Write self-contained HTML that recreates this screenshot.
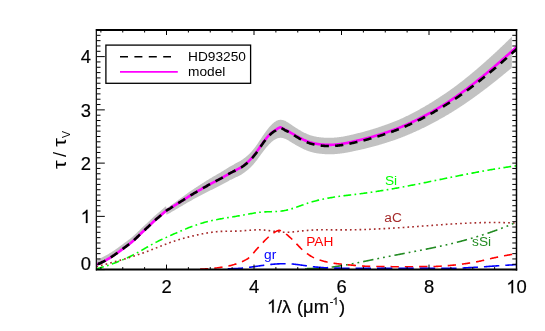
<!DOCTYPE html>
<html><head><meta charset="utf-8"><title>chart</title>
<style>
html,body{margin:0;padding:0;background:#fff;}
svg{display:block;will-change:transform;opacity:0.999;font-family:"Liberation Sans",sans-serif;}
</style></head><body>
<svg width="545" height="331" viewBox="0 0 545 331">
<rect width="545" height="331" fill="#fff"/>
<defs><clipPath id="c"><rect x="96.5" y="30.0" width="420.0" height="239.60000000000002"/></clipPath></defs>
<g clip-path="url(#c)" fill="none" stroke-linecap="butt" stroke-linejoin="round">
<path d="M90.00,262.43 L90.48,262.26 L90.96,262.09 L91.43,261.91 L91.91,261.73 L92.39,261.55 L92.87,261.37 L93.35,261.18 L93.83,260.99 L94.30,260.80 L94.78,260.60 L95.26,260.41 L95.74,260.21 L96.22,260.01 L96.70,259.81 L97.17,259.62 L97.65,259.43 L98.13,259.24 L98.61,259.05 L99.09,258.85 L99.57,258.65 L100.04,258.45 L100.52,258.24 L101.00,258.03 L101.48,257.80 L101.96,257.57 L102.44,257.33 L102.91,257.09 L103.39,256.85 L103.87,256.61 L104.35,256.36 L104.83,256.11 L105.31,255.85 L105.78,255.58 L106.26,255.31 L106.74,255.03 L107.22,254.75 L107.70,254.48 L108.18,254.19 L108.65,253.91 L109.13,253.62 L109.61,253.33 L110.09,253.04 L110.57,252.74 L111.05,252.45 L111.52,252.15 L112.00,251.84 L112.48,251.53 L112.96,251.21 L113.44,250.89 L113.92,250.57 L114.39,250.24 L114.87,249.91 L115.35,249.58 L115.83,249.25 L116.31,248.91 L116.79,248.57 L117.26,248.23 L117.74,247.89 L118.22,247.55 L118.70,247.21 L119.18,246.86 L119.66,246.52 L120.13,246.17 L120.61,245.82 L121.09,245.46 L121.57,245.11 L122.05,244.75 L122.53,244.39 L123.00,244.03 L123.48,243.66 L123.96,243.29 L124.44,242.95 L124.92,242.60 L125.39,242.25 L125.87,241.90 L126.35,241.55 L126.83,241.19 L127.31,240.83 L127.79,240.47 L128.26,240.11 L128.74,239.74 L129.22,239.38 L129.70,239.01 L130.18,238.63 L130.66,238.26 L131.13,237.88 L131.61,237.50 L132.09,237.11 L132.57,236.69 L133.05,236.26 L133.53,235.84 L134.00,235.41 L134.48,234.98 L134.96,234.55 L135.44,234.11 L135.92,233.67 L136.40,233.22 L136.87,232.76 L137.35,232.30 L137.83,231.83 L138.31,231.37 L138.79,230.90 L139.27,230.43 L139.74,229.95 L140.22,229.48 L140.70,229.00 L141.18,228.52 L141.66,228.03 L142.14,227.57 L142.61,227.14 L143.09,226.71 L143.57,226.29 L144.05,225.85 L144.53,225.42 L145.01,224.98 L145.48,224.54 L145.96,224.10 L146.44,223.66 L146.92,223.21 L147.40,222.77 L147.88,222.32 L148.35,221.87 L148.83,221.41 L149.31,220.95 L149.79,220.50 L150.27,220.04 L150.75,219.58 L151.22,219.12 L151.70,218.66 L152.18,218.20 L152.66,217.74 L153.14,217.29 L153.62,216.83 L154.09,216.38 L154.57,215.96 L155.05,215.55 L155.53,215.14 L156.01,214.73 L156.48,214.32 L156.96,213.91 L157.44,213.51 L157.92,213.10 L158.40,212.70 L158.88,212.31 L159.35,211.91 L159.83,211.52 L160.31,211.10 L160.79,210.67 L161.27,210.24 L161.75,209.81 L162.22,209.39 L162.70,208.97 L163.18,208.55 L163.66,208.14 L164.14,207.73 L164.62,207.33 L165.09,206.93 L165.57,206.53 L166.05,206.15 L166.53,208.49 L167.01,208.15 L167.49,207.81 L167.96,207.48 L168.44,207.15 L168.92,206.82 L169.40,206.49 L169.88,206.17 L170.36,205.82 L170.83,205.45 L171.31,205.09 L171.79,204.73 L172.27,204.38 L172.75,204.02 L173.23,203.67 L173.70,203.33 L174.18,202.99 L174.66,202.65 L175.14,202.31 L175.62,201.97 L176.10,201.64 L176.57,201.27 L177.05,200.91 L177.53,200.55 L178.01,200.19 L178.49,199.84 L178.97,199.49 L179.44,199.14 L179.92,198.80 L180.40,198.45 L180.88,198.11 L181.36,197.77 L181.84,197.44 L182.31,197.10 L182.79,196.76 L183.27,196.40 L183.75,196.04 L184.23,195.68 L184.71,195.32 L185.18,194.96 L185.66,194.61 L186.14,194.26 L186.62,193.90 L187.10,193.56 L187.58,193.21 L188.05,192.86 L188.53,192.52 L189.01,192.18 L189.49,191.84 L189.97,191.50 L190.44,191.17 L190.92,190.85 L191.40,190.52 L191.88,190.20 L192.36,189.88 L192.84,189.56 L193.31,189.24 L193.79,188.93 L194.27,188.61 L194.75,188.30 L195.23,187.98 L195.71,187.67 L196.18,187.35 L196.66,187.03 L197.14,186.71 L197.62,186.40 L198.10,186.08 L198.58,185.77 L199.05,185.45 L199.53,185.14 L200.01,184.83 L200.49,184.52 L200.97,184.21 L201.45,183.91 L201.92,183.60 L202.40,183.29 L202.88,182.99 L203.36,182.69 L203.84,182.38 L204.32,182.08 L204.79,181.77 L205.27,181.47 L205.75,181.17 L206.23,180.87 L206.71,180.56 L207.19,180.26 L207.66,179.96 L208.14,179.66 L208.62,179.38 L209.10,179.10 L209.58,178.81 L210.06,178.53 L210.53,178.25 L211.01,177.97 L211.49,177.69 L211.97,177.40 L212.45,177.12 L212.93,176.84 L213.40,176.55 L213.88,176.27 L214.36,175.99 L214.84,175.70 L215.32,175.43 L215.80,175.15 L216.27,174.88 L216.75,174.61 L217.23,174.34 L217.71,174.07 L218.19,173.79 L218.67,173.52 L219.14,173.24 L219.62,172.96 L220.10,172.68 L220.58,172.40 L221.06,172.11 L221.54,171.82 L222.01,171.53 L222.49,171.24 L222.97,170.95 L223.45,170.66 L223.93,170.37 L224.40,170.07 L224.88,169.78 L225.36,169.48 L225.84,169.18 L226.32,168.88 L226.80,168.58 L227.27,168.28 L227.75,167.97 L228.23,167.66 L228.71,167.36 L229.19,167.05 L229.67,166.74 L230.14,166.44 L230.62,166.19 L231.10,165.94 L231.58,165.68 L232.06,165.43 L232.54,165.17 L233.01,164.91 L233.49,164.65 L233.97,164.38 L234.45,164.12 L234.93,163.85 L235.41,163.59 L235.88,163.33 L236.36,163.07 L236.84,162.81 L237.32,162.55 L237.80,162.28 L238.28,162.02 L238.75,161.74 L239.23,161.47 L239.71,161.19 L240.19,160.91 L240.67,160.65 L241.15,160.37 L241.62,160.07 L242.10,159.74 L242.58,159.41 L243.06,159.07 L243.54,158.73 L244.02,158.37 L244.49,158.02 L244.97,157.65 L245.45,157.27 L245.93,156.89 L246.41,156.50 L246.89,156.10 L247.36,155.69 L247.84,155.26 L248.32,154.83 L248.80,154.39 L249.28,153.93 L249.76,153.46 L250.23,152.97 L250.71,152.46 L251.19,151.94 L251.67,151.40 L252.15,150.85 L252.63,150.29 L253.10,149.71 L253.58,149.12 L254.06,148.52 L254.54,147.91 L255.02,147.28 L255.49,146.65 L255.97,146.01 L256.45,145.36 L256.93,144.66 L257.41,143.96 L257.89,143.25 L258.36,142.53 L258.84,141.81 L259.32,141.09 L259.80,140.37 L260.28,139.64 L260.76,138.92 L261.23,138.19 L261.71,137.47 L262.19,136.76 L262.67,136.04 L263.15,135.34 L263.63,134.66 L264.10,133.99 L264.58,133.32 L265.06,132.66 L265.54,131.99 L266.02,131.32 L266.50,130.67 L266.97,130.03 L267.45,129.41 L267.93,128.79 L268.41,128.19 L268.89,127.61 L269.37,127.04 L269.84,126.48 L270.32,125.95 L270.80,125.43 L271.28,124.93 L271.76,124.45 L272.24,123.99 L272.71,123.56 L273.19,123.14 L273.67,122.74 L274.15,122.37 L274.63,122.01 L275.11,121.69 L275.58,121.38 L276.06,121.10 L276.54,120.85 L277.02,120.62 L277.50,120.42 L277.98,120.25 L278.45,120.11 L278.93,119.99 L279.41,119.91 L279.89,119.85 L280.37,119.81 L280.85,119.81 L281.32,119.83 L281.80,119.88 L282.28,119.95 L282.76,120.05 L283.24,120.17 L283.72,120.32 L284.19,120.48 L284.67,120.66 L285.15,120.87 L285.63,121.12 L286.11,121.38 L286.59,121.65 L287.06,121.94 L287.54,122.23 L288.02,122.53 L288.50,122.84 L288.98,123.15 L289.45,123.47 L289.93,123.78 L290.41,124.11 L290.89,124.45 L291.37,124.78 L291.85,125.10 L292.32,125.43 L292.80,125.76 L293.28,126.08 L293.76,126.40 L294.24,126.72 L294.72,127.03 L295.19,127.35 L295.67,127.66 L296.15,127.96 L296.63,128.27 L297.11,128.57 L297.59,128.87 L298.06,129.16 L298.54,129.46 L299.02,129.75 L299.50,130.03 L299.98,130.31 L300.46,130.59 L300.93,130.86 L301.41,131.13 L301.89,131.39 L302.37,131.65 L302.85,131.90 L303.33,132.15 L303.80,132.40 L304.28,132.64 L304.76,132.88 L305.24,133.11 L305.72,133.34 L306.20,133.56 L306.67,133.78 L307.15,133.99 L307.63,134.19 L308.11,134.39 L308.59,134.59 L309.07,134.78 L309.54,134.97 L310.02,135.14 L310.50,135.29 L310.98,135.44 L311.46,135.58 L311.94,135.71 L312.41,135.84 L312.89,135.97 L313.37,136.09 L313.85,136.20 L314.33,136.31 L314.81,136.42 L315.28,136.52 L315.76,136.62 L316.24,136.71 L316.72,136.79 L317.20,136.88 L317.68,136.95 L318.15,137.03 L318.63,137.10 L319.11,137.16 L319.59,137.22 L320.07,137.28 L320.55,137.33 L321.02,137.38 L321.50,137.42 L321.98,137.46 L322.46,137.51 L322.94,137.56 L323.41,137.60 L323.89,137.64 L324.37,137.68 L324.85,137.71 L325.33,137.73 L325.81,137.76 L326.28,137.78 L326.76,137.79 L327.24,137.81 L327.72,137.82 L328.20,137.82 L328.68,137.82 L329.15,137.82 L329.63,137.82 L330.11,137.81 L330.59,137.80 L331.07,137.79 L331.55,137.77 L332.02,137.75 L332.50,137.73 L332.98,137.71 L333.46,137.68 L333.94,137.65 L334.42,137.62 L334.89,137.58 L335.37,137.54 L335.85,137.50 L336.33,137.45 L336.81,137.41 L337.29,137.35 L337.76,137.30 L338.24,137.24 L338.72,137.19 L339.20,137.12 L339.68,137.06 L340.16,136.99 L340.63,136.93 L341.11,136.85 L341.59,136.78 L342.07,136.70 L342.55,136.63 L343.03,136.54 L343.50,136.46 L343.98,136.38 L344.46,136.29 L344.94,136.20 L345.42,136.11 L345.90,136.02 L346.37,135.92 L346.85,135.82 L347.33,135.72 L347.81,135.62 L348.29,135.52 L348.77,135.42 L349.24,135.31 L349.72,135.20 L350.20,135.09 L350.68,134.98 L351.16,134.87 L351.64,134.76 L352.11,134.64 L352.59,134.52 L353.07,134.40 L353.55,134.29 L354.03,134.16 L354.51,134.04 L354.98,133.92 L355.46,133.81 L355.94,133.70 L356.42,133.58 L356.90,133.47 L357.37,133.35 L357.85,133.24 L358.33,133.12 L358.81,133.00 L359.29,132.89 L359.77,132.77 L360.24,132.64 L360.72,132.52 L361.20,132.40 L361.68,132.27 L362.16,132.14 L362.64,132.02 L363.11,131.89 L363.59,131.76 L364.07,131.63 L364.55,131.50 L365.03,131.37 L365.51,131.23 L365.98,131.10 L366.46,130.97 L366.94,130.83 L367.42,130.69 L367.90,130.56 L368.38,130.42 L368.85,130.28 L369.33,130.14 L369.81,130.00 L370.29,129.86 L370.77,129.72 L371.25,129.57 L371.72,129.43 L372.20,129.29 L372.68,129.14 L373.16,128.99 L373.64,128.85 L374.12,128.70 L374.59,128.55 L375.07,128.40 L375.55,128.25 L376.03,128.09 L376.51,127.94 L376.99,127.79 L377.46,127.63 L377.94,127.48 L378.42,127.32 L378.90,127.16 L379.38,127.00 L379.86,126.84 L380.33,126.68 L380.81,126.52 L381.29,126.36 L381.77,126.20 L382.25,126.03 L382.73,125.87 L383.20,125.70 L383.68,125.54 L384.16,125.37 L384.64,125.20 L385.12,125.03 L385.60,124.86 L386.07,124.69 L386.55,124.52 L387.03,124.34 L387.51,124.17 L387.99,123.99 L388.46,123.82 L388.94,123.64 L389.42,123.46 L389.90,123.28 L390.38,123.10 L390.86,122.92 L391.33,122.74 L391.81,122.56 L392.29,122.37 L392.77,122.19 L393.25,122.00 L393.73,121.81 L394.20,121.62 L394.68,121.43 L395.16,121.24 L395.64,121.05 L396.12,120.86 L396.60,120.67 L397.07,120.47 L397.55,120.28 L398.03,120.08 L398.51,119.88 L398.99,119.68 L399.47,119.48 L399.94,119.28 L400.42,119.06 L400.90,118.84 L401.38,118.62 L401.86,118.40 L402.34,118.17 L402.81,117.95 L403.29,117.72 L403.77,117.50 L404.25,117.27 L404.73,117.04 L405.21,116.81 L405.68,116.58 L406.16,116.35 L406.64,116.11 L407.12,115.88 L407.60,115.64 L408.08,115.40 L408.55,115.17 L409.03,114.93 L409.51,114.69 L409.99,114.45 L410.47,114.20 L410.95,113.96 L411.42,113.72 L411.90,113.47 L412.38,113.22 L412.86,112.97 L413.34,112.73 L413.82,112.48 L414.29,112.22 L414.77,111.97 L415.25,111.72 L415.73,111.46 L416.21,111.21 L416.69,110.95 L417.16,110.69 L417.64,110.43 L418.12,110.17 L418.60,109.91 L419.08,109.65 L419.56,109.38 L420.03,109.12 L420.51,108.85 L420.99,108.58 L421.47,108.31 L421.95,108.04 L422.42,107.77 L422.90,107.50 L423.38,107.22 L423.86,106.95 L424.34,106.67 L424.82,106.40 L425.29,106.12 L425.77,105.84 L426.25,105.56 L426.73,105.28 L427.21,104.99 L427.69,104.71 L428.16,104.42 L428.64,104.13 L429.12,103.85 L429.60,103.56 L430.08,103.27 L430.56,102.97 L431.03,102.68 L431.51,102.39 L431.99,102.09 L432.47,101.79 L432.95,101.50 L433.43,101.20 L433.90,100.90 L434.38,100.59 L434.86,100.29 L435.34,99.99 L435.82,99.68 L436.30,99.37 L436.77,99.06 L437.25,98.76 L437.73,98.44 L438.21,98.13 L438.69,97.82 L439.17,97.50 L439.64,97.19 L440.12,96.87 L440.60,96.56 L441.08,96.25 L441.56,95.93 L442.04,95.62 L442.51,95.30 L442.99,94.98 L443.47,94.67 L443.95,94.35 L444.43,94.02 L444.91,93.70 L445.38,93.38 L445.86,93.05 L446.34,92.72 L446.82,92.39 L447.30,92.06 L447.78,91.73 L448.25,91.40 L448.73,91.07 L449.21,90.73 L449.69,90.39 L450.17,90.06 L450.65,89.72 L451.12,89.37 L451.60,89.03 L452.08,88.68 L452.56,88.34 L453.04,87.99 L453.52,87.64 L453.99,87.29 L454.47,86.94 L454.95,86.59 L455.43,86.23 L455.91,85.88 L456.38,85.52 L456.86,85.16 L457.34,84.80 L457.82,84.44 L458.30,84.08 L458.78,83.71 L459.25,83.35 L459.73,82.98 L460.21,82.62 L460.69,82.25 L461.17,81.88 L461.65,81.51 L462.12,81.13 L462.60,80.76 L463.08,80.38 L463.56,80.01 L464.04,79.63 L464.52,79.25 L464.99,78.87 L465.47,78.49 L465.95,78.11 L466.43,77.72 L466.91,77.34 L467.39,76.95 L467.86,76.56 L468.34,76.17 L468.82,75.78 L469.30,75.39 L469.78,75.00 L470.26,74.60 L470.73,74.21 L471.21,73.81 L471.69,73.41 L472.17,73.02 L472.65,72.62 L473.13,72.22 L473.60,71.82 L474.08,71.41 L474.56,71.01 L475.04,70.61 L475.52,70.20 L476.00,69.80 L476.47,69.39 L476.95,68.98 L477.43,68.57 L477.91,68.16 L478.39,67.75 L478.87,67.34 L479.34,66.93 L479.82,66.52 L480.30,66.10 L480.78,65.68 L481.26,65.26 L481.74,64.84 L482.21,64.42 L482.69,64.00 L483.17,63.58 L483.65,63.16 L484.13,62.73 L484.61,62.31 L485.08,61.88 L485.56,61.46 L486.04,61.03 L486.52,60.60 L487.00,60.18 L487.47,59.75 L487.95,59.32 L488.43,58.89 L488.91,58.46 L489.39,58.02 L489.87,57.59 L490.34,57.16 L490.82,56.72 L491.30,56.29 L491.78,55.86 L492.26,55.42 L492.74,54.98 L493.21,54.55 L493.69,54.11 L494.17,53.67 L494.65,53.23 L495.13,52.79 L495.61,52.34 L496.08,51.89 L496.56,51.44 L497.04,50.99 L497.52,50.54 L498.00,50.09 L498.48,49.63 L498.95,49.18 L499.43,48.73 L499.91,48.27 L500.39,47.82 L500.87,47.36 L501.35,46.91 L501.82,46.45 L502.30,46.00 L502.78,45.54 L503.26,45.08 L503.74,44.63 L504.22,44.17 L504.69,43.71 L505.17,43.25 L505.65,42.79 L506.13,42.33 L506.61,41.87 L507.09,41.41 L507.56,40.95 L508.04,40.49 L508.52,40.03 L509.00,39.57 L509.48,39.11 L509.96,38.65 L510.43,38.19 L510.91,37.73 L511.39,37.26 L511.87,36.80 L511.87,67.75 L511.39,68.15 L510.91,68.55 L510.43,68.94 L509.96,69.34 L509.48,69.73 L509.00,70.13 L508.52,70.52 L508.04,70.92 L507.56,71.31 L507.09,71.71 L506.61,72.10 L506.13,72.50 L505.65,72.89 L505.17,73.28 L504.69,73.67 L504.22,74.07 L503.74,74.46 L503.26,74.85 L502.78,75.24 L502.30,75.63 L501.82,76.02 L501.35,76.41 L500.87,76.80 L500.39,77.19 L499.91,77.58 L499.43,77.97 L498.95,78.36 L498.48,78.75 L498.00,79.14 L497.52,79.52 L497.04,79.91 L496.56,80.30 L496.08,80.68 L495.61,81.07 L495.13,81.45 L494.65,81.83 L494.17,82.21 L493.69,82.58 L493.21,82.96 L492.74,83.33 L492.26,83.70 L491.78,84.08 L491.30,84.45 L490.82,84.82 L490.34,85.19 L489.87,85.56 L489.39,85.93 L488.91,86.30 L488.43,86.67 L487.95,87.04 L487.47,87.40 L487.00,87.77 L486.52,88.14 L486.04,88.50 L485.56,88.87 L485.08,89.23 L484.61,89.60 L484.13,89.96 L483.65,90.32 L483.17,90.68 L482.69,91.05 L482.21,91.41 L481.74,91.77 L481.26,92.12 L480.78,92.48 L480.30,92.84 L479.82,93.20 L479.34,93.55 L478.87,93.90 L478.39,94.25 L477.91,94.60 L477.43,94.95 L476.95,95.30 L476.47,95.65 L476.00,96.00 L475.52,96.34 L475.04,96.69 L474.56,97.03 L474.08,97.38 L473.60,97.72 L473.13,98.06 L472.65,98.41 L472.17,98.75 L471.69,99.09 L471.21,99.43 L470.73,99.76 L470.26,100.10 L469.78,100.44 L469.30,100.77 L468.82,101.11 L468.34,101.44 L467.86,101.77 L467.39,102.10 L466.91,102.43 L466.43,102.76 L465.95,103.09 L465.47,103.42 L464.99,103.75 L464.52,104.07 L464.04,104.39 L463.56,104.71 L463.08,105.03 L462.60,105.35 L462.12,105.67 L461.65,105.99 L461.17,106.31 L460.69,106.62 L460.21,106.93 L459.73,107.25 L459.25,107.56 L458.78,107.87 L458.30,108.18 L457.82,108.49 L457.34,108.80 L456.86,109.10 L456.38,109.41 L455.91,109.71 L455.43,110.02 L454.95,110.32 L454.47,110.62 L453.99,110.92 L453.52,111.21 L453.04,111.51 L452.56,111.81 L452.08,112.10 L451.60,112.40 L451.12,112.69 L450.65,112.98 L450.17,113.27 L449.69,113.56 L449.21,113.84 L448.73,114.13 L448.25,114.41 L447.78,114.70 L447.30,114.98 L446.82,115.26 L446.34,115.54 L445.86,115.82 L445.38,116.10 L444.91,116.38 L444.43,116.65 L443.95,116.93 L443.47,117.20 L442.99,117.47 L442.51,117.74 L442.04,118.01 L441.56,118.28 L441.08,118.55 L440.60,118.82 L440.12,119.08 L439.64,119.35 L439.17,119.62 L438.69,119.89 L438.21,120.16 L437.73,120.42 L437.25,120.69 L436.77,120.95 L436.30,121.21 L435.82,121.47 L435.34,121.73 L434.86,121.99 L434.38,122.25 L433.90,122.51 L433.43,122.76 L432.95,123.02 L432.47,123.27 L431.99,123.53 L431.51,123.78 L431.03,124.03 L430.56,124.28 L430.08,124.52 L429.60,124.77 L429.12,125.02 L428.64,125.26 L428.16,125.51 L427.69,125.75 L427.21,125.99 L426.73,126.23 L426.25,126.47 L425.77,126.71 L425.29,126.95 L424.82,127.18 L424.34,127.42 L423.86,127.65 L423.38,127.89 L422.90,128.12 L422.42,128.35 L421.95,128.58 L421.47,128.81 L420.99,129.04 L420.51,129.27 L420.03,129.49 L419.56,129.72 L419.08,129.94 L418.60,130.16 L418.12,130.39 L417.64,130.61 L417.16,130.83 L416.69,131.04 L416.21,131.26 L415.73,131.48 L415.25,131.70 L414.77,131.91 L414.29,132.12 L413.82,132.34 L413.34,132.55 L412.86,132.76 L412.38,132.97 L411.90,133.18 L411.42,133.39 L410.95,133.59 L410.47,133.80 L409.99,134.00 L409.51,134.21 L409.03,134.41 L408.55,134.61 L408.08,134.81 L407.60,135.01 L407.12,135.21 L406.64,135.41 L406.16,135.61 L405.68,135.80 L405.21,136.00 L404.73,136.19 L404.25,136.39 L403.77,136.58 L403.29,136.77 L402.81,136.96 L402.34,137.15 L401.86,137.34 L401.38,137.53 L400.90,137.71 L400.42,137.90 L399.94,138.08 L399.47,138.26 L398.99,138.43 L398.51,138.61 L398.03,138.78 L397.55,138.95 L397.07,139.13 L396.60,139.30 L396.12,139.47 L395.64,139.63 L395.16,139.80 L394.68,139.97 L394.20,140.13 L393.73,140.30 L393.25,140.46 L392.77,140.63 L392.29,140.79 L391.81,140.95 L391.33,141.11 L390.86,141.27 L390.38,141.43 L389.90,141.59 L389.42,141.75 L388.94,141.90 L388.46,142.06 L387.99,142.21 L387.51,142.37 L387.03,142.52 L386.55,142.67 L386.07,142.82 L385.60,142.97 L385.12,143.12 L384.64,143.27 L384.16,143.42 L383.68,143.56 L383.20,143.71 L382.73,143.86 L382.25,144.00 L381.77,144.14 L381.29,144.29 L380.81,144.43 L380.33,144.57 L379.86,144.71 L379.38,144.85 L378.90,144.99 L378.42,145.13 L377.94,145.26 L377.46,145.40 L376.99,145.54 L376.51,145.67 L376.03,145.80 L375.55,145.94 L375.07,146.07 L374.59,146.20 L374.12,146.33 L373.64,146.46 L373.16,146.59 L372.68,146.72 L372.20,146.85 L371.72,146.97 L371.25,147.10 L370.77,147.23 L370.29,147.35 L369.81,147.47 L369.33,147.60 L368.85,147.72 L368.38,147.84 L367.90,147.96 L367.42,148.08 L366.94,148.20 L366.46,148.32 L365.98,148.44 L365.51,148.55 L365.03,148.67 L364.55,148.79 L364.07,148.90 L363.59,149.01 L363.11,149.13 L362.64,149.24 L362.16,149.35 L361.68,149.46 L361.20,149.57 L360.72,149.68 L360.24,149.79 L359.77,149.90 L359.29,150.00 L358.81,150.11 L358.33,150.21 L357.85,150.31 L357.37,150.41 L356.90,150.51 L356.42,150.61 L355.94,150.71 L355.46,150.81 L354.98,150.91 L354.51,151.02 L354.03,151.12 L353.55,151.23 L353.07,151.33 L352.59,151.44 L352.11,151.54 L351.64,151.64 L351.16,151.74 L350.68,151.84 L350.20,151.94 L349.72,152.03 L349.24,152.13 L348.77,152.22 L348.29,152.31 L347.81,152.40 L347.33,152.49 L346.85,152.58 L346.37,152.66 L345.90,152.74 L345.42,152.83 L344.94,152.91 L344.46,152.98 L343.98,153.06 L343.50,153.14 L343.03,153.21 L342.55,153.28 L342.07,153.35 L341.59,153.41 L341.11,153.48 L340.63,153.54 L340.16,153.60 L339.68,153.66 L339.20,153.72 L338.72,153.77 L338.24,153.82 L337.76,153.87 L337.29,153.92 L336.81,153.96 L336.33,154.00 L335.85,154.04 L335.37,154.08 L334.89,154.12 L334.42,154.15 L333.94,154.18 L333.46,154.20 L332.98,154.23 L332.50,154.25 L332.02,154.27 L331.55,154.28 L331.07,154.30 L330.59,154.31 L330.11,154.31 L329.63,154.32 L329.15,154.31 L328.68,154.31 L328.20,154.30 L327.72,154.29 L327.24,154.28 L326.76,154.26 L326.28,154.24 L325.81,154.21 L325.33,154.19 L324.85,154.15 L324.37,154.12 L323.89,154.08 L323.41,154.04 L322.94,154.00 L322.46,153.95 L321.98,153.90 L321.50,153.86 L321.02,153.81 L320.55,153.76 L320.07,153.71 L319.59,153.66 L319.11,153.60 L318.63,153.53 L318.15,153.47 L317.68,153.39 L317.20,153.32 L316.72,153.24 L316.24,153.16 L315.76,153.07 L315.28,152.98 L314.81,152.88 L314.33,152.78 L313.85,152.68 L313.37,152.57 L312.89,152.46 L312.41,152.34 L311.94,152.22 L311.46,152.10 L310.98,151.97 L310.50,151.84 L310.02,151.70 L309.54,151.53 L309.07,151.36 L308.59,151.19 L308.11,151.01 L307.63,150.83 L307.15,150.64 L306.67,150.45 L306.20,150.25 L305.72,150.05 L305.24,149.84 L304.76,149.63 L304.28,149.42 L303.80,149.20 L303.33,148.97 L302.85,148.75 L302.37,148.52 L301.89,148.28 L301.41,148.04 L300.93,147.80 L300.46,147.56 L299.98,147.31 L299.50,147.05 L299.02,146.80 L298.54,146.54 L298.06,146.27 L297.59,146.01 L297.11,145.74 L296.63,145.47 L296.15,145.19 L295.67,144.92 L295.19,144.64 L294.72,144.36 L294.24,144.07 L293.76,143.79 L293.28,143.50 L292.80,143.21 L292.32,142.92 L291.85,142.63 L291.37,142.33 L290.89,142.03 L290.41,141.74 L289.93,141.44 L289.45,141.15 L288.98,140.87 L288.50,140.59 L288.02,140.31 L287.54,140.04 L287.06,139.78 L286.59,139.52 L286.11,139.27 L285.63,139.04 L285.15,138.82 L284.67,138.63 L284.19,138.46 L283.72,138.31 L283.24,138.17 L282.76,138.06 L282.28,137.97 L281.80,137.89 L281.32,137.84 L280.85,137.82 L280.37,137.82 L279.89,137.85 L279.41,137.89 L278.93,137.97 L278.45,138.06 L277.98,138.19 L277.50,138.34 L277.02,138.51 L276.54,138.71 L276.06,138.93 L275.58,139.17 L275.11,139.43 L274.63,139.72 L274.15,140.03 L273.67,140.35 L273.19,140.70 L272.71,141.07 L272.24,141.45 L271.76,141.85 L271.28,142.27 L270.80,142.71 L270.32,143.16 L269.84,143.63 L269.37,144.11 L268.89,144.61 L268.41,145.13 L267.93,145.65 L267.45,146.19 L266.97,146.74 L266.50,147.30 L266.02,147.87 L265.54,148.46 L265.06,149.05 L264.58,149.65 L264.10,150.26 L263.63,150.88 L263.15,151.50 L262.67,152.14 L262.19,152.79 L261.71,153.45 L261.23,154.11 L260.76,154.77 L260.28,155.43 L259.80,156.10 L259.32,156.76 L258.84,157.42 L258.36,158.07 L257.89,158.73 L257.41,159.38 L256.93,160.03 L256.45,160.66 L255.97,161.26 L255.49,161.85 L255.02,162.43 L254.54,163.01 L254.06,163.57 L253.58,164.13 L253.10,164.67 L252.63,165.20 L252.15,165.72 L251.67,166.23 L251.19,166.73 L250.71,167.21 L250.23,167.69 L249.76,168.15 L249.28,168.58 L248.80,169.01 L248.32,169.42 L247.84,169.83 L247.36,170.22 L246.89,170.61 L246.41,170.99 L245.93,171.36 L245.45,171.72 L244.97,172.08 L244.49,172.42 L244.02,172.76 L243.54,173.10 L243.06,173.43 L242.58,173.75 L242.10,174.06 L241.62,174.38 L241.15,174.67 L240.67,174.94 L240.19,175.20 L239.71,175.45 L239.23,175.70 L238.75,175.94 L238.28,176.18 L237.80,176.41 L237.32,176.65 L236.84,176.88 L236.36,177.11 L235.88,177.34 L235.41,177.56 L234.93,177.79 L234.45,178.02 L233.97,178.26 L233.49,178.49 L233.01,178.72 L232.54,178.95 L232.06,179.18 L231.58,179.41 L231.10,179.63 L230.62,179.85 L230.14,180.07 L229.67,180.33 L229.19,180.61 L228.71,180.88 L228.23,181.15 L227.75,181.42 L227.27,181.69 L226.80,181.96 L226.32,182.23 L225.84,182.49 L225.36,182.76 L224.88,183.02 L224.40,183.28 L223.93,183.54 L223.45,183.80 L222.97,184.06 L222.49,184.32 L222.01,184.57 L221.54,184.83 L221.06,185.08 L220.58,185.33 L220.10,185.58 L219.62,185.83 L219.14,186.08 L218.67,186.33 L218.19,186.57 L217.71,186.81 L217.23,187.05 L216.75,187.30 L216.27,187.54 L215.80,187.78 L215.32,188.02 L214.84,188.25 L214.36,188.49 L213.88,188.72 L213.40,188.95 L212.93,189.18 L212.45,189.41 L211.97,189.65 L211.49,189.88 L211.01,190.11 L210.53,190.34 L210.06,190.57 L209.58,190.80 L209.10,191.03 L208.62,191.26 L208.14,191.49 L207.66,191.74 L207.19,191.99 L206.71,192.24 L206.23,192.49 L205.75,192.74 L205.27,192.99 L204.79,193.24 L204.32,193.49 L203.84,193.74 L203.36,193.99 L202.88,194.24 L202.40,194.49 L201.92,194.75 L201.45,195.00 L200.97,195.25 L200.49,195.51 L200.01,195.76 L199.53,196.02 L199.05,196.27 L198.58,196.52 L198.10,196.78 L197.62,197.04 L197.14,197.29 L196.66,197.55 L196.18,197.81 L195.71,198.07 L195.23,198.33 L194.75,198.58 L194.27,198.84 L193.79,199.10 L193.31,199.36 L192.84,199.62 L192.36,199.88 L191.88,200.14 L191.40,200.40 L190.92,200.67 L190.44,200.93 L189.97,201.20 L189.49,201.47 L189.01,201.74 L188.53,202.01 L188.05,202.29 L187.58,202.56 L187.10,202.84 L186.62,203.12 L186.14,203.40 L185.66,203.68 L185.18,203.97 L184.71,204.25 L184.23,204.54 L183.75,204.83 L183.27,205.12 L182.79,205.42 L182.31,205.69 L181.84,205.96 L181.36,206.22 L180.88,206.50 L180.40,206.77 L179.92,207.04 L179.44,207.32 L178.97,207.60 L178.49,207.89 L178.01,208.17 L177.53,208.46 L177.05,208.75 L176.57,209.04 L176.10,209.33 L175.62,209.61 L175.14,209.88 L174.66,210.15 L174.18,210.42 L173.70,210.70 L173.23,210.98 L172.75,211.26 L172.27,211.54 L171.79,211.83 L171.31,212.12 L170.83,212.42 L170.36,212.71 L169.88,213.00 L169.40,213.26 L168.92,213.52 L168.44,213.78 L167.96,214.05 L167.49,214.32 L167.01,214.59 L166.53,214.87 L166.05,212.35 L165.57,212.73 L165.09,213.13 L164.62,213.53 L164.14,213.93 L163.66,214.34 L163.18,214.75 L162.70,215.17 L162.22,215.59 L161.75,216.01 L161.27,216.44 L160.79,216.87 L160.31,217.30 L159.83,217.72 L159.35,218.11 L158.88,218.51 L158.40,218.90 L157.92,219.30 L157.44,219.71 L156.96,220.11 L156.48,220.52 L156.01,220.93 L155.53,221.34 L155.05,221.75 L154.57,222.16 L154.09,222.58 L153.62,223.03 L153.14,223.49 L152.66,223.94 L152.18,224.40 L151.70,224.86 L151.22,225.32 L150.75,225.78 L150.27,226.24 L149.79,226.70 L149.31,227.15 L148.83,227.61 L148.35,228.07 L147.88,228.52 L147.40,228.97 L146.92,229.41 L146.44,229.86 L145.96,230.30 L145.48,230.74 L145.01,231.18 L144.53,231.62 L144.05,232.05 L143.57,232.49 L143.09,232.91 L142.61,233.34 L142.14,233.77 L141.66,234.23 L141.18,234.72 L140.70,235.20 L140.22,235.68 L139.74,236.15 L139.27,236.63 L138.79,237.10 L138.31,237.57 L137.83,238.03 L137.35,238.50 L136.87,238.96 L136.40,239.42 L135.92,239.87 L135.44,240.31 L134.96,240.75 L134.48,241.18 L134.00,241.61 L133.53,242.04 L133.05,242.46 L132.57,242.89 L132.09,243.31 L131.61,243.70 L131.13,244.08 L130.66,244.46 L130.18,244.83 L129.70,245.21 L129.22,245.58 L128.74,245.94 L128.26,246.31 L127.79,246.67 L127.31,247.03 L126.83,247.39 L126.35,247.75 L125.87,248.10 L125.39,248.45 L124.92,248.80 L124.44,249.15 L123.96,249.49 L123.48,249.86 L123.00,250.23 L122.53,250.59 L122.05,250.95 L121.57,251.31 L121.09,251.66 L120.61,252.02 L120.13,252.37 L119.66,252.72 L119.18,253.06 L118.70,253.41 L118.22,253.75 L117.74,254.09 L117.26,254.43 L116.79,254.77 L116.31,255.11 L115.83,255.45 L115.35,255.78 L114.87,256.11 L114.39,256.44 L113.92,256.77 L113.44,257.09 L112.96,257.41 L112.48,257.73 L112.00,258.04 L111.52,258.35 L111.05,258.65 L110.57,258.94 L110.09,259.24 L109.61,259.53 L109.13,259.82 L108.65,260.11 L108.18,260.39 L107.70,260.68 L107.22,260.95 L106.74,261.23 L106.26,261.51 L105.78,261.78 L105.31,262.05 L104.83,262.31 L104.35,262.56 L103.87,262.81 L103.39,263.05 L102.91,263.29 L102.44,263.53 L101.96,263.77 L101.48,264.00 L101.00,264.23 L100.52,264.44 L100.04,264.65 L99.57,264.85 L99.09,265.05 L98.61,265.25 L98.13,265.44 L97.65,265.63 L97.17,265.82 L96.70,266.01 L96.22,266.21 L95.74,266.41 L95.26,266.61 L94.78,266.80 L94.30,267.00 L93.83,267.19 L93.35,267.38 L92.87,267.57 L92.39,267.75 L91.91,267.93 L91.43,268.11 L90.96,268.29 L90.48,268.46 L90.00,268.63Z" fill="#c2c2c2" stroke="none"/>
<path d="M96.30,268.78 L97.35,268.51 L98.41,268.24 L99.46,267.95 L100.51,267.66 L101.57,267.37 L102.62,267.06 L103.67,266.75 L104.73,266.43 L105.78,266.11 L106.83,265.78 L107.88,265.43 L108.94,265.09 L109.99,264.73 L111.04,264.37 L112.10,263.99 L113.15,263.61 L114.20,263.23 L115.26,262.83 L116.31,262.43 L117.36,262.02 L118.42,261.60 L119.47,261.17 L120.52,260.74 L121.58,260.30 L122.63,259.85 L123.68,259.39 L124.73,258.92 L125.79,258.45 L126.84,257.96 L127.89,257.47 L128.95,256.97 L130.00,256.46 L131.05,255.95 L132.11,255.42 L133.16,254.89 L134.21,254.35 L135.27,253.80 L136.32,253.24 L137.37,252.67 L138.43,252.10 L139.48,251.51 L140.53,250.92 L141.58,250.32 L142.64,249.72 L143.69,249.12 L144.74,248.51 L145.80,247.90 L146.85,247.30 L147.90,246.69 L148.96,246.10 L150.01,245.50 L151.06,244.92 L152.12,244.34 L153.17,243.77 L154.22,243.22 L155.28,242.67 L156.33,242.13 L157.38,241.60 L158.43,241.08 L159.49,240.56 L160.54,240.06 L161.59,239.56 L162.65,239.06 L163.70,238.57 L164.75,238.09 L165.81,237.61 L166.86,237.13 L167.91,236.65 L168.97,236.18 L170.02,235.72 L171.07,235.25 L172.13,234.78 L173.18,234.32 L174.23,233.85 L175.28,233.39 L176.34,232.93 L177.39,232.47 L178.44,232.01 L179.50,231.55 L180.55,231.09 L181.60,230.64 L182.66,230.19 L183.71,229.75 L184.76,229.31 L185.82,228.88 L186.87,228.45 L187.92,228.02 L188.98,227.61 L190.03,227.20 L191.08,226.79 L192.14,226.40 L193.19,226.01 L194.24,225.63 L195.29,225.26 L196.35,224.90 L197.40,224.55 L198.45,224.21 L199.51,223.88 L200.56,223.55 L201.61,223.24 L202.67,222.93 L203.72,222.64 L204.77,222.35 L205.83,222.07 L206.88,221.80 L207.93,221.53 L208.99,221.27 L210.04,221.02 L211.09,220.78 L212.14,220.54 L213.20,220.31 L214.25,220.09 L215.30,219.87 L216.36,219.66 L217.41,219.45 L218.46,219.25 L219.52,219.05 L220.57,218.86 L221.62,218.67 L222.68,218.48 L223.73,218.30 L224.78,218.12 L225.84,217.95 L226.89,217.78 L227.94,217.60 L228.99,217.43 L230.05,217.27 L231.10,217.10 L232.15,216.93 L233.21,216.76 L234.26,216.59 L235.31,216.43 L236.37,216.26 L237.42,216.08 L238.47,215.91 L239.53,215.73 L240.58,215.55 L241.63,215.37 L242.69,215.18 L243.74,214.99 L244.79,214.80 L245.84,214.60 L246.90,214.40 L247.95,214.20 L249.00,214.00 L250.06,213.81 L251.11,213.62 L252.16,213.43 L253.22,213.24 L254.27,213.07 L255.32,212.90 L256.38,212.74 L257.43,212.59 L258.48,212.45 L259.54,212.33 L260.59,212.21 L261.64,212.11 L262.69,212.03 L263.75,211.96 L264.80,211.90 L265.85,211.85 L266.91,211.81 L267.96,211.78 L269.01,211.75 L270.07,211.72 L271.12,211.69 L272.17,211.66 L273.23,211.63 L274.28,211.59 L275.33,211.55 L276.39,211.50 L277.44,211.44 L278.49,211.36 L279.55,211.27 L280.60,211.17 L281.65,211.04 L282.70,210.90 L283.76,210.74 L284.81,210.55 L285.86,210.34 L286.92,210.10 L287.97,209.84 L289.02,209.57 L290.08,209.27 L291.13,208.96 L292.18,208.63 L293.24,208.29 L294.29,207.94 L295.34,207.58 L296.40,207.21 L297.45,206.83 L298.50,206.46 L299.55,206.08 L300.61,205.70 L301.66,205.32 L302.71,204.94 L303.77,204.56 L304.82,204.19 L305.87,203.82 L306.93,203.46 L307.98,203.11 L309.03,202.77 L310.09,202.44 L311.14,202.12 L312.19,201.81 L313.25,201.51 L314.30,201.22 L315.35,200.94 L316.40,200.66 L317.46,200.40 L318.51,200.14 L319.56,199.89 L320.62,199.65 L321.67,199.41 L322.72,199.18 L323.78,198.96 L324.83,198.75 L325.88,198.54 L326.94,198.34 L327.99,198.14 L329.04,197.95 L330.10,197.77 L331.15,197.59 L332.20,197.42 L333.25,197.25 L334.31,197.08 L335.36,196.92 L336.41,196.76 L337.47,196.61 L338.52,196.46 L339.57,196.32 L340.63,196.17 L341.68,196.03 L342.73,195.89 L343.79,195.76 L344.84,195.62 L345.89,195.49 L346.95,195.36 L348.00,195.23 L349.05,195.11 L350.11,194.98 L351.16,194.85 L352.21,194.73 L353.26,194.60 L354.32,194.47 L355.37,194.35 L356.42,194.22 L357.48,194.09 L358.53,193.96 L359.58,193.83 L360.64,193.70 L361.69,193.57 L362.74,193.43 L363.80,193.29 L364.85,193.15 L365.90,193.01 L366.96,192.86 L368.01,192.72 L369.06,192.57 L370.11,192.42 L371.17,192.27 L372.22,192.11 L373.27,191.96 L374.33,191.80 L375.38,191.64 L376.43,191.48 L377.49,191.31 L378.54,191.15 L379.59,190.98 L380.65,190.81 L381.70,190.64 L382.75,190.47 L383.81,190.30 L384.86,190.12 L385.91,189.95 L386.96,189.77 L388.02,189.59 L389.07,189.41 L390.12,189.23 L391.18,189.04 L392.23,188.86 L393.28,188.67 L394.34,188.49 L395.39,188.30 L396.44,188.11 L397.50,187.92 L398.55,187.72 L399.60,187.53 L400.66,187.34 L401.71,187.14 L402.76,186.94 L403.81,186.75 L404.87,186.55 L405.92,186.35 L406.97,186.15 L408.03,185.94 L409.08,185.74 L410.13,185.54 L411.19,185.33 L412.24,185.13 L413.29,184.92 L414.35,184.72 L415.40,184.51 L416.45,184.30 L417.51,184.09 L418.56,183.88 L419.61,183.68 L420.66,183.46 L421.72,183.25 L422.77,183.04 L423.82,182.83 L424.88,182.62 L425.93,182.41 L426.98,182.19 L428.04,181.98 L429.09,181.77 L430.14,181.55 L431.20,181.34 L432.25,181.12 L433.30,180.91 L434.36,180.69 L435.41,180.48 L436.46,180.26 L437.52,180.05 L438.57,179.83 L439.62,179.62 L440.67,179.40 L441.73,179.19 L442.78,178.97 L443.83,178.76 L444.89,178.54 L445.94,178.33 L446.99,178.11 L448.05,177.90 L449.10,177.68 L450.15,177.47 L451.21,177.26 L452.26,177.04 L453.31,176.83 L454.37,176.62 L455.42,176.41 L456.47,176.19 L457.52,175.98 L458.58,175.77 L459.63,175.56 L460.68,175.35 L461.74,175.14 L462.79,174.93 L463.84,174.73 L464.90,174.52 L465.95,174.31 L467.00,174.11 L468.06,173.90 L469.11,173.70 L470.16,173.49 L471.22,173.29 L472.27,173.09 L473.32,172.89 L474.37,172.69 L475.43,172.49 L476.48,172.29 L477.53,172.10 L478.59,171.90 L479.64,171.71 L480.69,171.51 L481.75,171.32 L482.80,171.13 L483.85,170.94 L484.91,170.75 L485.96,170.56 L487.01,170.38 L488.07,170.19 L489.12,170.01 L490.17,169.82 L491.22,169.64 L492.28,169.46 L493.33,169.29 L494.38,169.11 L495.44,168.93 L496.49,168.76 L497.54,168.59 L498.60,168.42 L499.65,168.25 L500.70,168.08 L501.76,167.92 L502.81,167.76 L503.86,167.59 L504.92,167.43 L505.97,167.28 L507.02,167.12 L508.07,166.96 L509.13,166.81 L510.18,166.66 L511.23,166.51 L512.29,166.37 L513.34,166.22 L514.39,166.08 L515.45,165.94 L516.50,165.80" stroke="#00ff00" stroke-width="1.6" stroke-dasharray="7.8 3.35 1.7 3.4"/>
<path d="M96.30,266.72 L97.35,266.44 L98.41,266.16 L99.46,265.87 L100.51,265.59 L101.57,265.31 L102.62,265.03 L103.67,264.75 L104.73,264.47 L105.78,264.18 L106.83,263.90 L107.88,263.62 L108.94,263.34 L109.99,263.05 L111.04,262.77 L112.10,262.48 L113.15,262.19 L114.20,261.91 L115.26,261.62 L116.31,261.32 L117.36,261.03 L118.42,260.74 L119.47,260.44 L120.52,260.14 L121.58,259.84 L122.63,259.53 L123.68,259.23 L124.73,258.92 L125.79,258.61 L126.84,258.29 L127.89,257.97 L128.95,257.65 L130.00,257.33 L131.05,257.00 L132.11,256.67 L133.16,256.34 L134.21,256.00 L135.27,255.65 L136.32,255.31 L137.37,254.96 L138.43,254.60 L139.48,254.24 L140.53,253.87 L141.58,253.50 L142.64,253.13 L143.69,252.75 L144.74,252.37 L145.80,251.98 L146.85,251.58 L147.90,251.18 L148.96,250.78 L150.01,250.37 L151.06,249.96 L152.12,249.55 L153.17,249.14 L154.22,248.72 L155.28,248.30 L156.33,247.88 L157.38,247.47 L158.43,247.05 L159.49,246.63 L160.54,246.22 L161.59,245.80 L162.65,245.39 L163.70,244.98 L164.75,244.58 L165.81,244.18 L166.86,243.78 L167.91,243.39 L168.97,243.00 L170.02,242.62 L171.07,242.24 L172.13,241.87 L173.18,241.51 L174.23,241.15 L175.28,240.81 L176.34,240.47 L177.39,240.13 L178.44,239.81 L179.50,239.49 L180.55,239.17 L181.60,238.86 L182.66,238.56 L183.71,238.27 L184.76,237.98 L185.82,237.70 L186.87,237.42 L187.92,237.14 L188.98,236.88 L190.03,236.61 L191.08,236.36 L192.14,236.10 L193.19,235.85 L194.24,235.61 L195.29,235.37 L196.35,235.13 L197.40,234.90 L198.45,234.67 L199.51,234.45 L200.56,234.23 L201.61,234.01 L202.67,233.80 L203.72,233.60 L204.77,233.40 L205.83,233.21 L206.88,233.03 L207.93,232.85 L208.99,232.68 L210.04,232.52 L211.09,232.37 L212.14,232.22 L213.20,232.09 L214.25,231.96 L215.30,231.84 L216.36,231.74 L217.41,231.64 L218.46,231.55 L219.52,231.48 L220.57,231.41 L221.62,231.36 L222.68,231.32 L223.73,231.28 L224.78,231.25 L225.84,231.23 L226.89,231.22 L227.94,231.20 L228.99,231.19 L230.05,231.18 L231.10,231.18 L232.15,231.17 L233.21,231.16 L234.26,231.14 L235.31,231.13 L236.37,231.11 L237.42,231.08 L238.47,231.04 L239.53,231.00 L240.58,230.95 L241.63,230.88 L242.69,230.81 L243.74,230.74 L244.79,230.65 L245.84,230.57 L246.90,230.48 L247.95,230.40 L249.00,230.31 L250.06,230.22 L251.11,230.14 L252.16,230.07 L253.22,230.00 L254.27,229.94 L255.32,229.89 L256.38,229.85 L257.43,229.83 L258.48,229.82 L259.54,229.82 L260.59,229.84 L261.64,229.88 L262.69,229.94 L263.75,230.02 L264.80,230.11 L265.85,230.22 L266.91,230.34 L267.96,230.47 L269.01,230.61 L270.07,230.76 L271.12,230.90 L272.17,231.05 L273.23,231.19 L274.28,231.33 L275.33,231.46 L276.39,231.59 L277.44,231.71 L278.49,231.82 L279.55,231.92 L280.60,232.01 L281.65,232.08 L282.70,232.14 L283.76,232.19 L284.81,232.22 L285.86,232.24 L286.92,232.24 L287.97,232.22 L289.02,232.18 L290.08,232.12 L291.13,232.04 L292.18,231.96 L293.24,231.86 L294.29,231.76 L295.34,231.65 L296.40,231.54 L297.45,231.42 L298.50,231.31 L299.55,231.19 L300.61,231.07 L301.66,230.95 L302.71,230.84 L303.77,230.73 L304.82,230.63 L305.87,230.53 L306.93,230.44 L307.98,230.35 L309.03,230.28 L310.09,230.21 L311.14,230.15 L312.19,230.09 L313.25,230.04 L314.30,230.00 L315.35,229.96 L316.40,229.92 L317.46,229.89 L318.51,229.87 L319.56,229.85 L320.62,229.83 L321.67,229.82 L322.72,229.81 L323.78,229.81 L324.83,229.80 L325.88,229.80 L326.94,229.80 L327.99,229.81 L329.04,229.81 L330.10,229.82 L331.15,229.83 L332.20,229.83 L333.25,229.84 L334.31,229.85 L335.36,229.86 L336.41,229.86 L337.47,229.87 L338.52,229.88 L339.57,229.88 L340.63,229.88 L341.68,229.88 L342.73,229.88 L343.79,229.88 L344.84,229.88 L345.89,229.87 L346.95,229.86 L348.00,229.85 L349.05,229.84 L350.11,229.83 L351.16,229.81 L352.21,229.79 L353.26,229.78 L354.32,229.76 L355.37,229.73 L356.42,229.71 L357.48,229.69 L358.53,229.66 L359.58,229.63 L360.64,229.61 L361.69,229.58 L362.74,229.54 L363.80,229.51 L364.85,229.48 L365.90,229.44 L366.96,229.40 L368.01,229.37 L369.06,229.33 L370.11,229.28 L371.17,229.24 L372.22,229.20 L373.27,229.15 L374.33,229.11 L375.38,229.06 L376.43,229.01 L377.49,228.96 L378.54,228.91 L379.59,228.86 L380.65,228.81 L381.70,228.76 L382.75,228.70 L383.81,228.65 L384.86,228.59 L385.91,228.53 L386.96,228.47 L388.02,228.41 L389.07,228.35 L390.12,228.29 L391.18,228.23 L392.23,228.17 L393.28,228.10 L394.34,228.04 L395.39,227.97 L396.44,227.91 L397.50,227.84 L398.55,227.77 L399.60,227.71 L400.66,227.64 L401.71,227.57 L402.76,227.50 L403.81,227.43 L404.87,227.35 L405.92,227.28 L406.97,227.21 L408.03,227.14 L409.08,227.06 L410.13,226.99 L411.19,226.92 L412.24,226.84 L413.29,226.76 L414.35,226.69 L415.40,226.61 L416.45,226.54 L417.51,226.46 L418.56,226.38 L419.61,226.30 L420.66,226.23 L421.72,226.15 L422.77,226.07 L423.82,225.99 L424.88,225.91 L425.93,225.84 L426.98,225.76 L428.04,225.68 L429.09,225.60 L430.14,225.52 L431.20,225.45 L432.25,225.37 L433.30,225.29 L434.36,225.21 L435.41,225.14 L436.46,225.06 L437.52,224.98 L438.57,224.91 L439.62,224.83 L440.67,224.76 L441.73,224.69 L442.78,224.61 L443.83,224.54 L444.89,224.47 L445.94,224.39 L446.99,224.32 L448.05,224.25 L449.10,224.18 L450.15,224.12 L451.21,224.05 L452.26,223.98 L453.31,223.92 L454.37,223.85 L455.42,223.79 L456.47,223.73 L457.52,223.66 L458.58,223.60 L459.63,223.55 L460.68,223.49 L461.74,223.43 L462.79,223.38 L463.84,223.32 L464.90,223.27 L465.95,223.22 L467.00,223.17 L468.06,223.12 L469.11,223.07 L470.16,223.03 L471.22,222.99 L472.27,222.94 L473.32,222.90 L474.37,222.87 L475.43,222.83 L476.48,222.79 L477.53,222.76 L478.59,222.73 L479.64,222.70 L480.69,222.67 L481.75,222.65 L482.80,222.63 L483.85,222.61 L484.91,222.59 L485.96,222.57 L487.01,222.55 L488.07,222.54 L489.12,222.53 L490.17,222.52 L491.22,222.52 L492.28,222.52 L493.33,222.52 L494.38,222.52 L495.44,222.52 L496.49,222.53 L497.54,222.54 L498.60,222.55 L499.65,222.56 L500.70,222.58 L501.76,222.60 L502.81,222.62 L503.86,222.65 L504.92,222.68 L505.97,222.71 L507.02,222.74 L508.07,222.78 L509.13,222.82 L510.18,222.86 L511.23,222.91 L512.29,222.96 L513.34,223.01 L514.39,223.07 L515.45,223.12 L516.50,223.19" stroke="#a52a2a" stroke-width="1.6" stroke-dasharray="1.7 3.1"/>
<path d="M305.00,268.97 L305.53,268.97 L306.06,268.97 L306.59,268.97 L307.12,268.96 L307.65,268.96 L308.18,268.95 L308.71,268.94 L309.24,268.93 L309.77,268.91 L310.30,268.90 L310.83,268.88 L311.36,268.86 L311.89,268.84 L312.42,268.82 L312.95,268.80 L313.48,268.77 L314.01,268.75 L314.54,268.72 L315.07,268.69 L315.60,268.66 L316.13,268.63 L316.66,268.60 L317.19,268.56 L317.72,268.53 L318.25,268.49 L318.78,268.45 L319.31,268.41 L319.84,268.37 L320.37,268.32 L320.90,268.28 L321.43,268.23 L321.96,268.19 L322.49,268.14 L323.02,268.09 L323.55,268.04 L324.08,267.99 L324.61,267.93 L325.14,267.88 L325.67,267.82 L326.20,267.77 L326.73,267.71 L327.26,267.65 L327.79,267.59 L328.32,267.53 L328.85,267.47 L329.38,267.40 L329.91,267.34 L330.44,267.27 L330.97,267.20 L331.50,267.14 L332.03,267.07 L332.56,267.00 L333.09,266.93 L333.62,266.85 L334.15,266.78 L334.68,266.71 L335.21,266.63 L335.74,266.56 L336.27,266.48 L336.80,266.40 L337.33,266.32 L337.86,266.24 L338.39,266.16 L338.92,266.08 L339.45,266.00 L339.98,265.91 L340.52,265.83 L341.05,265.75 L341.58,265.66 L342.11,265.57 L342.64,265.49 L343.17,265.40 L343.70,265.31 L344.23,265.22 L344.76,265.13 L345.29,265.04 L345.82,264.95 L346.35,264.85 L346.88,264.76 L347.41,264.67 L347.94,264.57 L348.47,264.48 L349.00,264.38 L349.53,264.29 L350.06,264.19 L350.59,264.09 L351.12,263.99 L351.65,263.90 L352.18,263.80 L352.71,263.70 L353.24,263.60 L353.77,263.50 L354.30,263.40 L354.83,263.29 L355.36,263.19 L355.89,263.09 L356.42,262.99 L356.95,262.88 L357.48,262.78 L358.01,262.68 L358.54,262.57 L359.07,262.47 L359.60,262.36 L360.13,262.26 L360.66,262.15 L361.19,262.04 L361.72,261.94 L362.25,261.83 L362.78,261.72 L363.31,261.62 L363.84,261.51 L364.37,261.40 L364.90,261.29 L365.43,261.18 L365.96,261.08 L366.49,260.97 L367.02,260.86 L367.55,260.75 L368.08,260.64 L368.61,260.53 L369.14,260.42 L369.67,260.31 L370.20,260.20 L370.73,260.09 L371.26,259.98 L371.79,259.87 L372.32,259.76 L372.85,259.66 L373.38,259.55 L373.91,259.44 L374.44,259.33 L374.97,259.22 L375.50,259.11 L376.03,259.00 L376.56,258.89 L377.09,258.78 L377.62,258.67 L378.15,258.56 L378.68,258.45 L379.21,258.34 L379.74,258.23 L380.27,258.12 L380.80,258.02 L381.33,257.91 L381.86,257.80 L382.39,257.69 L382.92,257.59 L383.45,257.48 L383.98,257.37 L384.51,257.26 L385.04,257.16 L385.57,257.05 L386.10,256.95 L386.63,256.84 L387.16,256.73 L387.69,256.63 L388.22,256.52 L388.75,256.42 L389.28,256.31 L389.81,256.21 L390.34,256.11 L390.87,256.00 L391.40,255.90 L391.93,255.79 L392.46,255.69 L392.99,255.59 L393.52,255.49 L394.05,255.38 L394.58,255.28 L395.11,255.18 L395.64,255.07 L396.17,254.97 L396.70,254.87 L397.23,254.77 L397.76,254.67 L398.29,254.56 L398.82,254.46 L399.35,254.36 L399.88,254.26 L400.41,254.16 L400.94,254.05 L401.47,253.95 L402.00,253.85 L402.53,253.75 L403.06,253.65 L403.59,253.55 L404.12,253.45 L404.65,253.34 L405.18,253.24 L405.71,253.14 L406.24,253.04 L406.77,252.94 L407.30,252.84 L407.83,252.74 L408.36,252.63 L408.89,252.53 L409.42,252.43 L409.95,252.33 L410.48,252.23 L411.02,252.13 L411.55,252.02 L412.08,251.92 L412.61,251.82 L413.14,251.72 L413.67,251.62 L414.20,251.51 L414.73,251.41 L415.26,251.31 L415.79,251.21 L416.32,251.10 L416.85,251.00 L417.38,250.90 L417.91,250.79 L418.44,250.69 L418.97,250.59 L419.50,250.48 L420.03,250.38 L420.56,250.27 L421.09,250.17 L421.62,250.07 L422.15,249.96 L422.68,249.86 L423.21,249.75 L423.74,249.65 L424.27,249.54 L424.80,249.43 L425.33,249.33 L425.86,249.22 L426.39,249.11 L426.92,249.01 L427.45,248.90 L427.98,248.79 L428.51,248.68 L429.04,248.58 L429.57,248.47 L430.10,248.36 L430.63,248.25 L431.16,248.14 L431.69,248.03 L432.22,247.92 L432.75,247.81 L433.28,247.70 L433.81,247.59 L434.34,247.48 L434.87,247.36 L435.40,247.25 L435.93,247.14 L436.46,247.02 L436.99,246.91 L437.52,246.80 L438.05,246.68 L438.58,246.57 L439.11,246.45 L439.64,246.34 L440.17,246.22 L440.70,246.10 L441.23,245.99 L441.76,245.87 L442.29,245.75 L442.82,245.63 L443.35,245.51 L443.88,245.39 L444.41,245.27 L444.94,245.15 L445.47,245.03 L446.00,244.91 L446.53,244.79 L447.06,244.66 L447.59,244.54 L448.12,244.42 L448.65,244.29 L449.18,244.17 L449.71,244.04 L450.24,243.92 L450.77,243.79 L451.30,243.66 L451.83,243.54 L452.36,243.41 L452.89,243.28 L453.42,243.15 L453.95,243.02 L454.48,242.89 L455.01,242.75 L455.54,242.62 L456.07,242.49 L456.60,242.36 L457.13,242.22 L457.66,242.09 L458.19,241.95 L458.72,241.82 L459.25,241.68 L459.78,241.54 L460.31,241.40 L460.84,241.26 L461.37,241.12 L461.90,240.98 L462.43,240.84 L462.96,240.70 L463.49,240.56 L464.02,240.42 L464.55,240.27 L465.08,240.13 L465.61,239.98 L466.14,239.84 L466.67,239.69 L467.20,239.54 L467.73,239.40 L468.26,239.25 L468.79,239.10 L469.32,238.95 L469.85,238.80 L470.38,238.64 L470.91,238.49 L471.44,238.34 L471.97,238.19 L472.50,238.03 L473.03,237.87 L473.56,237.72 L474.09,237.56 L474.62,237.40 L475.15,237.25 L475.68,237.09 L476.21,236.93 L476.74,236.76 L477.27,236.60 L477.80,236.44 L478.33,236.28 L478.86,236.11 L479.39,235.95 L479.92,235.78 L480.45,235.61 L480.98,235.45 L481.52,235.28 L482.05,235.11 L482.58,234.94 L483.11,234.77 L483.64,234.60 L484.17,234.42 L484.70,234.25 L485.23,234.08 L485.76,233.90 L486.29,233.73 L486.82,233.55 L487.35,233.37 L487.88,233.19 L488.41,233.01 L488.94,232.83 L489.47,232.65 L490.00,232.47 L490.53,232.29 L491.06,232.10 L491.59,231.92 L492.12,231.73 L492.65,231.55 L493.18,231.36 L493.71,231.17 L494.24,230.98 L494.77,230.79 L495.30,230.60 L495.83,230.41 L496.36,230.21 L496.89,230.02 L497.42,229.82 L497.95,229.63 L498.48,229.43 L499.01,229.23 L499.54,229.03 L500.07,228.83 L500.60,228.63 L501.13,228.43 L501.66,228.23 L502.19,228.02 L502.72,227.82 L503.25,227.61 L503.78,227.41 L504.31,227.20 L504.84,226.99 L505.37,226.78 L505.90,226.57 L506.43,226.36 L506.96,226.14 L507.49,225.93 L508.02,225.71 L508.55,225.50 L509.08,225.28 L509.61,225.06 L510.14,224.84 L510.67,224.62 L511.20,224.40 L511.73,224.18 L512.26,223.96 L512.79,223.73 L513.32,223.51 L513.85,223.28 L514.38,223.05 L514.91,222.83 L515.44,222.60 L515.97,222.36 L516.50,222.13" stroke="#228b22" stroke-width="1.6" stroke-dasharray="10.5 4 1.8 4 1.8 4 1.8 4" stroke-dashoffset="5.1"/>
<path d="M307,268.6 L326.7,268.3" stroke="#228b22" stroke-width="1.6"/>
<path d="M200.00,269.20 L200.79,269.17 L201.59,269.14 L202.38,269.10 L203.17,269.06 L203.97,269.02 L204.76,268.97 L205.55,268.92 L206.35,268.87 L207.14,268.82 L207.93,268.76 L208.73,268.70 L209.52,268.64 L210.31,268.57 L211.11,268.51 L211.90,268.44 L212.69,268.36 L213.48,268.28 L214.28,268.20 L215.07,268.11 L215.86,268.02 L216.66,267.93 L217.45,267.83 L218.24,267.72 L219.04,267.62 L219.83,267.51 L220.62,267.39 L221.42,267.27 L222.21,267.15 L223.00,267.03 L223.80,266.90 L224.59,266.77 L225.38,266.63 L226.18,266.49 L226.97,266.34 L227.76,266.18 L228.56,266.01 L229.35,265.83 L230.14,265.64 L230.94,265.45 L231.73,265.24 L232.52,265.03 L233.32,264.81 L234.11,264.59 L234.90,264.35 L235.70,264.11 L236.49,263.86 L237.28,263.61 L238.08,263.33 L238.87,263.04 L239.66,262.72 L240.45,262.39 L241.25,262.04 L242.04,261.68 L242.83,261.30 L243.63,260.91 L244.42,260.50 L245.21,260.09 L246.01,259.66 L246.80,259.21 L247.59,258.73 L248.39,258.21 L249.18,257.64 L249.97,257.02 L250.77,256.30 L251.56,255.45 L252.35,254.50 L253.15,253.50 L253.94,252.48 L254.73,251.47 L255.53,250.51 L256.32,249.62 L257.11,248.75 L257.91,247.90 L258.70,247.05 L259.49,246.21 L260.29,245.38 L261.08,244.55 L261.87,243.71 L262.67,242.87 L263.46,242.01 L264.25,241.16 L265.05,240.32 L265.84,239.51 L266.63,238.72 L267.42,237.98 L268.22,237.26 L269.01,236.56 L269.80,235.88 L270.60,235.23 L271.39,234.59 L272.18,233.99 L272.98,233.42 L273.77,232.88 L274.56,232.35 L275.36,231.85 L276.15,231.40 L276.94,231.02 L277.74,230.67 L278.53,230.38 L279.32,230.31 L280.12,230.53 L280.91,230.87 L281.70,231.23 L282.50,231.65 L283.29,232.13 L284.08,232.64 L284.88,233.18 L285.67,233.75 L286.46,234.35 L287.26,234.99 L288.05,235.65 L288.84,236.34 L289.64,237.04 L290.43,237.75 L291.22,238.48 L292.02,239.24 L292.81,240.02 L293.60,240.83 L294.39,241.64 L295.19,242.46 L295.98,243.27 L296.77,244.08 L297.57,244.90 L298.36,245.74 L299.15,246.58 L299.95,247.41 L300.74,248.22 L301.53,248.99 L302.33,249.72 L303.12,250.42 L303.91,251.10 L304.71,251.76 L305.50,252.39 L306.29,253.00 L307.09,253.59 L307.88,254.15 L308.67,254.69 L309.47,255.21 L310.26,255.71 L311.05,256.20 L311.85,256.67 L312.64,257.11 L313.43,257.52 L314.23,257.91 L315.02,258.27 L315.81,258.62 L316.61,258.95 L317.40,259.27 L318.19,259.56 L318.98,259.84 L319.78,260.09 L320.57,260.34 L321.36,260.57 L322.16,260.80 L322.95,261.02 L323.74,261.24 L324.54,261.45 L325.33,261.65 L326.12,261.84 L326.92,262.03 L327.71,262.20 L328.50,262.37 L329.30,262.53 L330.09,262.68 L330.88,262.81 L331.68,262.94 L332.47,263.07 L333.26,263.18 L334.06,263.29 L334.85,263.40 L335.64,263.50 L336.44,263.59 L337.23,263.68 L338.02,263.77 L338.82,263.86 L339.61,263.94 L340.40,264.03 L341.20,264.11 L341.99,264.19 L342.78,264.28 L343.58,264.36 L344.37,264.44 L345.16,264.53 L345.95,264.61 L346.75,264.69 L347.54,264.76 L348.33,264.84 L349.13,264.92 L349.92,264.99 L350.71,265.06 L351.51,265.13 L352.30,265.20 L353.09,265.27 L353.89,265.34 L354.68,265.40 L355.47,265.46 L356.27,265.52 L357.06,265.59 L357.85,265.65 L358.65,265.72 L359.44,265.78 L360.23,265.85 L361.03,265.91 L361.82,265.97 L362.61,266.03 L363.41,266.09 L364.20,266.14 L364.99,266.19 L365.79,266.24 L366.58,266.28 L367.37,266.32 L368.17,266.35 L368.96,266.37 L369.75,266.40 L370.55,266.41 L371.34,266.42 L372.13,266.44 L372.92,266.45 L373.72,266.47 L374.51,266.48 L375.30,266.49 L376.10,266.51 L376.89,266.52 L377.68,266.53 L378.48,266.54 L379.27,266.55 L380.06,266.56 L380.86,266.57 L381.65,266.58 L382.44,266.59 L383.24,266.60 L384.03,266.61 L384.82,266.62 L385.62,266.63 L386.41,266.63 L387.20,266.64 L388.00,266.65 L388.79,266.66 L389.58,266.66 L390.38,266.67 L391.17,266.67 L391.96,266.68 L392.76,266.68 L393.55,266.68 L394.34,266.69 L395.14,266.69 L395.93,266.69 L396.72,266.70 L397.52,266.70 L398.31,266.70 L399.10,266.70 L399.89,266.70 L400.69,266.70 L401.48,266.70 L402.27,266.70 L403.07,266.70 L403.86,266.70 L404.65,266.70 L405.45,266.70 L406.24,266.70 L407.03,266.69 L407.83,266.69 L408.62,266.69 L409.41,266.69 L410.21,266.69 L411.00,266.69 L411.79,266.68 L412.59,266.68 L413.38,266.68 L414.17,266.68 L414.97,266.67 L415.76,266.67 L416.55,266.67 L417.35,266.67 L418.14,266.66 L418.93,266.66 L419.73,266.66 L420.52,266.65 L421.31,266.65 L422.11,266.65 L422.90,266.64 L423.69,266.64 L424.48,266.63 L425.28,266.63 L426.07,266.62 L426.86,266.62 L427.66,266.61 L428.45,266.61 L429.24,266.60 L430.04,266.60 L430.83,266.59 L431.62,266.58 L432.42,266.56 L433.21,266.54 L434.00,266.52 L434.80,266.49 L435.59,266.46 L436.38,266.42 L437.18,266.38 L437.97,266.34 L438.76,266.29 L439.56,266.24 L440.35,266.19 L441.14,266.14 L441.94,266.08 L442.73,266.03 L443.52,265.97 L444.32,265.91 L445.11,265.84 L445.90,265.78 L446.70,265.71 L447.49,265.65 L448.28,265.58 L449.08,265.51 L449.87,265.44 L450.66,265.38 L451.45,265.31 L452.25,265.24 L453.04,265.17 L453.83,265.10 L454.63,265.02 L455.42,264.94 L456.21,264.86 L457.01,264.77 L457.80,264.68 L458.59,264.58 L459.39,264.48 L460.18,264.38 L460.97,264.28 L461.77,264.17 L462.56,264.06 L463.35,263.95 L464.15,263.83 L464.94,263.71 L465.73,263.59 L466.53,263.47 L467.32,263.35 L468.11,263.22 L468.91,263.09 L469.70,262.96 L470.49,262.83 L471.29,262.70 L472.08,262.57 L472.87,262.43 L473.67,262.30 L474.46,262.16 L475.25,262.03 L476.05,261.89 L476.84,261.74 L477.63,261.59 L478.42,261.43 L479.22,261.27 L480.01,261.11 L480.80,260.94 L481.60,260.76 L482.39,260.59 L483.18,260.40 L483.98,260.22 L484.77,260.04 L485.56,259.85 L486.36,259.66 L487.15,259.47 L487.94,259.28 L488.74,259.09 L489.53,258.90 L490.32,258.71 L491.12,258.52 L491.91,258.34 L492.70,258.15 L493.50,257.97 L494.29,257.79 L495.08,257.61 L495.88,257.44 L496.67,257.27 L497.46,257.11 L498.26,256.95 L499.05,256.79 L499.84,256.63 L500.64,256.48 L501.43,256.32 L502.22,256.17 L503.02,256.02 L503.81,255.87 L504.60,255.72 L505.39,255.57 L506.19,255.42 L506.98,255.27 L507.77,255.13 L508.57,254.98 L509.36,254.84 L510.15,254.70 L510.95,254.56 L511.74,254.42 L512.53,254.28 L513.33,254.14 L514.12,254.00 L514.91,253.87 L515.71,253.73 L516.50,253.60" stroke="#ff0000" stroke-width="1.6" stroke-dasharray="8.3 6"/>
<path d="M227.70,268.80 L228.42,268.80 L229.15,268.79 L229.87,268.77 L230.60,268.76 L231.32,268.74 L232.04,268.71 L232.77,268.69 L233.49,268.66 L234.21,268.62 L234.94,268.59 L235.66,268.55 L236.39,268.51 L237.11,268.47 L237.83,268.43 L238.56,268.39 L239.28,268.34 L240.00,268.30 L240.73,268.25 L241.45,268.20 L242.18,268.13 L242.90,268.06 L243.62,267.99 L244.35,267.90 L245.07,267.82 L245.80,267.73 L246.52,267.64 L247.24,267.55 L247.97,267.46 L248.69,267.36 L249.41,267.27 L250.14,267.18 L250.86,267.09 L251.59,267.00 L252.31,266.90 L253.03,266.80 L253.76,266.69 L254.48,266.59 L255.20,266.48 L255.93,266.38 L256.65,266.27 L257.38,266.17 L258.10,266.06 L258.82,265.96 L259.55,265.86 L260.27,265.76 L261.00,265.66 L261.72,265.56 L262.44,265.46 L263.17,265.35 L263.89,265.25 L264.61,265.15 L265.34,265.05 L266.06,264.95 L266.79,264.86 L267.51,264.77 L268.23,264.68 L268.96,264.60 L269.68,264.53 L270.40,264.46 L271.13,264.40 L271.85,264.33 L272.58,264.27 L273.30,264.21 L274.02,264.15 L274.75,264.09 L275.47,264.04 L276.20,263.99 L276.92,263.94 L277.64,263.90 L278.37,263.86 L279.09,263.83 L279.81,263.81 L280.54,263.78 L281.26,263.76 L281.99,263.74 L282.71,263.73 L283.43,263.71 L284.16,263.70 L284.88,263.70 L285.60,263.70 L286.33,263.72 L287.05,263.74 L287.78,263.76 L288.50,263.80 L289.22,263.83 L289.95,263.88 L290.67,263.92 L291.40,263.96 L292.12,264.01 L292.84,264.06 L293.57,264.12 L294.29,264.18 L295.01,264.26 L295.74,264.34 L296.46,264.43 L297.19,264.52 L297.91,264.62 L298.63,264.72 L299.36,264.82 L300.08,264.92 L300.80,265.03 L301.53,265.13 L302.25,265.23 L302.98,265.33 L303.70,265.43 L304.42,265.53 L305.15,265.62 L305.87,265.71 L306.60,265.80 L307.32,265.90 L308.04,265.99 L308.77,266.09 L309.49,266.19 L310.21,266.29 L310.94,266.39 L311.66,266.48 L312.39,266.58 L313.11,266.67 L313.83,266.76 L314.56,266.84 L315.28,266.93 L316.00,267.01 L316.73,267.08 L317.45,267.15 L318.18,267.22 L318.90,267.28 L319.62,267.34 L320.35,267.40 L321.07,267.46 L321.80,267.52 L322.52,267.58 L323.24,267.64 L323.97,267.69 L324.69,267.74 L325.41,267.79 L326.14,267.84 L326.86,267.88 L327.59,267.91 L328.31,267.95 L329.03,267.97 L329.76,267.99 L330.48,268.01 L331.20,268.03 L331.93,268.04 L332.65,268.06 L333.38,268.07 L334.10,268.08 L334.82,268.10 L335.55,268.11 L336.27,268.12 L337.00,268.13 L337.72,268.14 L338.44,268.15 L339.17,268.16 L339.89,268.16 L340.61,268.17 L341.34,268.18 L342.06,268.18 L342.79,268.19 L343.51,268.19 L344.23,268.20 L344.96,268.20 L345.68,268.20 L346.40,268.21 L347.13,268.21 L347.85,268.21 L348.58,268.21 L349.30,268.21 L350.02,268.22 L350.75,268.22 L351.47,268.22 L352.20,268.22 L352.92,268.22 L353.64,268.23 L354.37,268.23 L355.09,268.23 L355.81,268.23 L356.54,268.23 L357.26,268.24 L357.99,268.24 L358.71,268.24 L359.43,268.24 L360.16,268.24 L360.88,268.24 L361.60,268.24 L362.33,268.24 L363.05,268.25 L363.78,268.25 L364.50,268.25 L365.22,268.25 L365.95,268.25 L366.67,268.25 L367.40,268.25 L368.12,268.25 L368.84,268.25 L369.57,268.26 L370.29,268.26 L371.01,268.26 L371.74,268.26 L372.46,268.26 L373.19,268.26 L373.91,268.26 L374.63,268.26 L375.36,268.26 L376.08,268.26 L376.80,268.26 L377.53,268.26 L378.25,268.27 L378.98,268.27 L379.70,268.27 L380.42,268.27 L381.15,268.27 L381.87,268.27 L382.60,268.27 L383.32,268.27 L384.04,268.27 L384.77,268.27 L385.49,268.27 L386.21,268.28 L386.94,268.28 L387.66,268.28 L388.39,268.28 L389.11,268.28 L389.83,268.28 L390.56,268.28 L391.28,268.28 L392.00,268.28 L392.73,268.29 L393.45,268.29 L394.18,268.29 L394.90,268.29 L395.62,268.29 L396.35,268.29 L397.07,268.29 L397.80,268.29 L398.52,268.30 L399.24,268.30 L399.97,268.30 L400.69,268.30 L401.41,268.30 L402.14,268.31 L402.86,268.31 L403.59,268.31 L404.31,268.31 L405.03,268.32 L405.76,268.32 L406.48,268.32 L407.20,268.32 L407.93,268.33 L408.65,268.33 L409.38,268.33 L410.10,268.34 L410.82,268.34 L411.55,268.34 L412.27,268.35 L413.00,268.35 L413.72,268.35 L414.44,268.36 L415.17,268.36 L415.89,268.36 L416.61,268.37 L417.34,268.37 L418.06,268.37 L418.79,268.37 L419.51,268.38 L420.23,268.38 L420.96,268.38 L421.68,268.39 L422.40,268.39 L423.13,268.39 L423.85,268.39 L424.58,268.39 L425.30,268.39 L426.02,268.40 L426.75,268.40 L427.47,268.40 L428.20,268.40 L428.92,268.40 L429.64,268.40 L430.37,268.40 L431.09,268.40 L431.81,268.40 L432.54,268.40 L433.26,268.40 L433.99,268.40 L434.71,268.40 L435.43,268.39 L436.16,268.39 L436.88,268.39 L437.60,268.39 L438.33,268.38 L439.05,268.38 L439.78,268.38 L440.50,268.38 L441.22,268.37 L441.95,268.37 L442.67,268.37 L443.40,268.36 L444.12,268.36 L444.84,268.35 L445.57,268.35 L446.29,268.35 L447.01,268.34 L447.74,268.34 L448.46,268.33 L449.19,268.33 L449.91,268.32 L450.63,268.32 L451.36,268.31 L452.08,268.30 L452.80,268.30 L453.53,268.29 L454.25,268.28 L454.98,268.27 L455.70,268.25 L456.42,268.23 L457.15,268.21 L457.87,268.19 L458.60,268.17 L459.32,268.14 L460.04,268.11 L460.77,268.08 L461.49,268.05 L462.21,268.02 L462.94,267.98 L463.66,267.95 L464.39,267.91 L465.11,267.87 L465.83,267.83 L466.56,267.79 L467.28,267.75 L468.00,267.71 L468.73,267.67 L469.45,267.63 L470.18,267.59 L470.90,267.55 L471.62,267.51 L472.35,267.47 L473.07,267.43 L473.80,267.39 L474.52,267.35 L475.24,267.31 L475.97,267.27 L476.69,267.23 L477.41,267.19 L478.14,267.15 L478.86,267.10 L479.59,267.06 L480.31,267.01 L481.03,266.97 L481.76,266.92 L482.48,266.87 L483.20,266.83 L483.93,266.78 L484.65,266.73 L485.38,266.68 L486.10,266.63 L486.82,266.58 L487.55,266.53 L488.27,266.48 L489.00,266.42 L489.72,266.37 L490.44,266.32 L491.17,266.27 L491.89,266.22 L492.61,266.17 L493.34,266.12 L494.06,266.07 L494.79,266.02 L495.51,265.97 L496.23,265.92 L496.96,265.87 L497.68,265.82 L498.40,265.77 L499.13,265.73 L499.85,265.68 L500.58,265.63 L501.30,265.58 L502.02,265.54 L502.75,265.49 L503.47,265.44 L504.20,265.40 L504.92,265.35 L505.64,265.30 L506.37,265.25 L507.09,265.21 L507.81,265.16 L508.54,265.11 L509.26,265.07 L509.99,265.02 L510.71,264.97 L511.43,264.93 L512.16,264.88 L512.88,264.83 L513.60,264.79 L514.33,264.74 L515.05,264.69 L515.78,264.65 L516.50,264.60" stroke="#0000ff" stroke-width="1.6" stroke-dasharray="15.4 6"/>
<path d="M90.00,267.13 L90.48,266.96 L90.96,266.79 L91.43,266.61 L91.91,266.43 L92.39,266.25 L92.87,266.07 L93.35,265.88 L93.83,265.69 L94.30,265.50 L94.78,265.30 L95.26,265.11 L95.74,264.91 L96.22,264.71 L96.70,264.51 L97.17,264.32 L97.65,264.13 L98.13,263.94 L98.61,263.75 L99.09,263.55 L99.57,263.35 L100.04,263.15 L100.52,262.94 L101.00,262.73 L101.48,262.50 L101.96,262.27 L102.44,262.03 L102.91,261.79 L103.39,261.55 L103.87,261.31 L104.35,261.06 L104.83,260.81 L105.31,260.55 L105.78,260.28 L106.26,260.01 L106.74,259.73 L107.22,259.45 L107.70,259.18 L108.18,258.89 L108.65,258.61 L109.13,258.32 L109.61,258.03 L110.09,257.74 L110.57,257.44 L111.05,257.15 L111.52,256.85 L112.00,256.54 L112.48,256.23 L112.96,255.91 L113.44,255.59 L113.92,255.27 L114.39,254.94 L114.87,254.61 L115.35,254.28 L115.83,253.95 L116.31,253.61 L116.79,253.27 L117.26,252.93 L117.74,252.59 L118.22,252.25 L118.70,251.91 L119.18,251.56 L119.66,251.22 L120.13,250.87 L120.61,250.52 L121.09,250.16 L121.57,249.81 L122.05,249.45 L122.53,249.09 L123.00,248.73 L123.48,248.36 L123.96,247.99 L124.44,247.65 L124.92,247.30 L125.39,246.95 L125.87,246.60 L126.35,246.25 L126.83,245.89 L127.31,245.53 L127.79,245.17 L128.26,244.81 L128.74,244.44 L129.22,244.08 L129.70,243.71 L130.18,243.33 L130.66,242.96 L131.13,242.58 L131.61,242.20 L132.09,241.81 L132.57,241.39 L133.05,240.96 L133.53,240.54 L134.00,240.11 L134.48,239.68 L134.96,239.25 L135.44,238.81 L135.92,238.37 L136.40,237.92 L136.87,237.46 L137.35,237.00 L137.83,236.53 L138.31,236.07 L138.79,235.60 L139.27,235.13 L139.74,234.65 L140.22,234.18 L140.70,233.70 L141.18,233.22 L141.66,232.73 L142.14,232.27 L142.61,231.84 L143.09,231.41 L143.57,230.99 L144.05,230.55 L144.53,230.12 L145.01,229.68 L145.48,229.24 L145.96,228.80 L146.44,228.36 L146.92,227.91 L147.40,227.47 L147.88,227.02 L148.35,226.57 L148.83,226.11 L149.31,225.65 L149.79,225.20 L150.27,224.74 L150.75,224.28 L151.22,223.82 L151.70,223.36 L152.18,222.90 L152.66,222.44 L153.14,221.99 L153.62,221.53 L154.09,221.08 L154.57,220.66 L155.05,220.25 L155.53,219.84 L156.01,219.43 L156.48,219.02 L156.96,218.61 L157.44,218.21 L157.92,217.80 L158.40,217.40 L158.88,217.01 L159.35,216.61 L159.83,216.22 L160.31,215.80 L160.79,215.37 L161.27,214.94 L161.75,214.51 L162.22,214.09 L162.70,213.67 L163.18,213.25 L163.66,212.84 L164.14,212.43 L164.62,212.03 L165.09,211.63 L165.57,211.23 L166.05,210.85 L166.53,210.54 L167.01,210.25 L167.49,209.95 L167.96,209.66 L168.44,209.37 L168.92,209.09 L169.40,208.80 L169.88,208.53 L170.36,208.22 L170.83,207.90 L171.31,207.58 L171.79,207.27 L172.27,206.96 L172.75,206.65 L173.23,206.34 L173.70,206.04 L174.18,205.74 L174.66,205.45 L175.14,205.15 L175.62,204.86 L176.10,204.57 L176.57,204.25 L177.05,203.94 L177.53,203.62 L178.01,203.31 L178.49,203.00 L178.97,202.70 L179.44,202.40 L179.92,202.09 L180.40,201.80 L180.88,201.50 L181.36,201.21 L181.84,200.92 L182.31,200.63 L182.79,200.33 L183.27,200.01 L183.75,199.70 L184.23,199.38 L184.71,199.07 L185.18,198.76 L185.66,198.45 L186.14,198.15 L186.62,197.84 L187.10,197.54 L187.58,197.24 L188.05,196.94 L188.53,196.64 L189.01,196.35 L189.49,196.05 L189.97,195.76 L190.44,195.47 L190.92,195.18 L191.40,194.89 L191.88,194.60 L192.36,194.32 L192.84,194.03 L193.31,193.75 L193.79,193.47 L194.27,193.19 L194.75,192.91 L195.23,192.63 L195.71,192.35 L196.18,192.06 L196.66,191.78 L197.14,191.50 L197.62,191.22 L198.10,190.94 L198.58,190.66 L199.05,190.38 L199.53,190.11 L200.01,189.83 L200.49,189.55 L200.97,189.28 L201.45,189.01 L201.92,188.73 L202.40,188.46 L202.88,188.19 L203.36,187.91 L203.84,187.64 L204.32,187.37 L204.79,187.10 L205.27,186.83 L205.75,186.56 L206.23,186.29 L206.71,186.02 L207.19,185.75 L207.66,185.48 L208.14,185.21 L208.62,184.96 L209.10,184.71 L209.58,184.46 L210.06,184.21 L210.53,183.96 L211.01,183.71 L211.49,183.46 L211.97,183.21 L212.45,182.96 L212.93,182.71 L213.40,182.46 L213.88,182.20 L214.36,181.95 L214.84,181.70 L215.32,181.45 L215.80,181.19 L216.27,180.94 L216.75,180.68 L217.23,180.43 L217.71,180.17 L218.19,179.91 L218.67,179.66 L219.14,179.40 L219.62,179.14 L220.10,178.88 L220.58,178.62 L221.06,178.35 L221.54,178.09 L222.01,177.82 L222.49,177.55 L222.97,177.28 L223.45,177.01 L223.93,176.74 L224.40,176.47 L224.88,176.20 L225.36,175.92 L225.84,175.65 L226.32,175.37 L226.80,175.09 L227.27,174.81 L227.75,174.53 L228.23,174.25 L228.71,173.96 L229.19,173.67 L229.67,173.39 L230.14,173.12 L230.62,172.89 L231.10,172.65 L231.58,172.42 L232.06,172.18 L232.54,171.95 L233.01,171.71 L233.49,171.47 L233.97,171.22 L234.45,170.98 L234.93,170.73 L235.41,170.48 L235.88,170.23 L236.36,169.97 L236.84,169.72 L237.32,169.46 L237.80,169.20 L238.28,168.94 L238.75,168.67 L239.23,168.40 L239.71,168.13 L240.19,167.85 L240.67,167.57 L241.15,167.28 L241.62,166.97 L242.10,166.63 L242.58,166.28 L243.06,165.92 L243.54,165.56 L244.02,165.19 L244.49,164.82 L244.97,164.44 L245.45,164.05 L245.93,163.65 L246.41,163.24 L246.89,162.83 L247.36,162.40 L247.84,161.97 L248.32,161.53 L248.80,161.07 L249.28,160.61 L249.76,160.13 L250.23,159.64 L250.71,159.13 L251.19,158.62 L251.67,158.09 L252.15,157.56 L252.63,157.00 L253.10,156.44 L253.58,155.86 L254.06,155.28 L254.54,154.68 L255.02,154.07 L255.49,153.45 L255.97,152.83 L256.45,152.20 L256.93,151.52 L257.41,150.84 L257.89,150.15 L258.36,149.45 L258.84,148.76 L259.32,148.06 L259.80,147.36 L260.28,146.66 L260.76,145.96 L261.23,145.26 L261.71,144.56 L262.19,143.87 L262.67,143.18 L263.15,142.51 L263.63,141.85 L264.10,141.21 L264.58,140.57 L265.06,139.94 L265.54,139.32 L266.02,138.71 L266.50,138.12 L266.97,137.54 L267.45,136.97 L267.93,136.42 L268.41,135.88 L268.89,135.36 L269.37,134.86 L269.84,134.38 L270.32,133.92 L270.80,133.48 L271.28,133.05 L271.76,132.65 L272.24,132.27 L272.71,131.91 L273.19,131.57 L273.67,131.25 L274.15,130.96 L274.63,130.68 L275.11,130.43 L275.58,130.09 L276.06,129.71 L276.54,129.36 L277.02,129.02 L277.50,128.70 L277.98,128.41 L278.45,128.13 L278.93,127.88 L279.41,127.65 L279.89,127.44 L280.37,127.30 L280.85,127.47 L281.32,127.66 L281.80,127.87 L282.28,128.10 L282.76,128.35 L283.24,128.61 L283.72,128.89 L284.19,129.18 L284.67,129.49 L285.15,129.82 L285.63,130.07 L286.11,130.27 L286.59,130.49 L287.06,130.72 L287.54,130.95 L288.02,131.20 L288.50,131.45 L288.98,131.71 L289.45,131.97 L289.93,132.24 L290.41,132.51 L290.89,132.79 L291.37,133.06 L291.85,133.34 L292.32,133.62 L292.80,133.89 L293.28,134.17 L293.76,134.45 L294.24,134.73 L294.72,135.01 L295.19,135.29 L295.67,135.57 L296.15,135.85 L296.63,136.13 L297.11,136.41 L297.59,136.68 L298.06,136.95 L298.54,137.22 L299.02,137.49 L299.50,137.76 L299.98,138.02 L300.46,138.27 L300.93,138.51 L301.41,138.75 L301.89,138.98 L302.37,139.21 L302.85,139.44 L303.33,139.67 L303.80,139.89 L304.28,140.10 L304.76,140.31 L305.24,140.52 L305.72,140.72 L306.20,140.92 L306.67,141.11 L307.15,141.30 L307.63,141.48 L308.11,141.66 L308.59,141.83 L309.07,142.00 L309.54,142.16 L310.02,142.32 L310.50,142.46 L310.98,142.60 L311.46,142.73 L311.94,142.86 L312.41,142.98 L312.89,143.10 L313.37,143.22 L313.85,143.33 L314.33,143.43 L314.81,143.53 L315.28,143.63 L315.76,143.72 L316.24,143.81 L316.72,143.89 L317.20,143.97 L317.68,144.04 L318.15,144.11 L318.63,144.18 L319.11,144.24 L319.59,144.30 L320.07,144.36 L320.55,144.41 L321.02,144.45 L321.50,144.49 L321.98,144.53 L322.46,144.58 L322.94,144.63 L323.41,144.67 L323.89,144.71 L324.37,144.74 L324.85,144.77 L325.33,144.80 L325.81,144.82 L326.28,144.84 L326.76,144.86 L327.24,144.87 L327.72,144.88 L328.20,144.89 L328.68,144.89 L329.15,144.89 L329.63,144.89 L330.11,144.88 L330.59,144.87 L331.07,144.86 L331.55,144.84 L332.02,144.82 L332.50,144.80 L332.98,144.78 L333.46,144.75 L333.94,144.72 L334.42,144.68 L334.89,144.65 L335.37,144.61 L335.85,144.57 L336.33,144.52 L336.81,144.48 L337.29,144.43 L337.76,144.37 L338.24,144.32 L338.72,144.26 L339.20,144.20 L339.68,144.14 L340.16,144.08 L340.63,144.01 L341.11,143.94 L341.59,143.87 L342.07,143.80 L342.55,143.72 L343.03,143.64 L343.50,143.56 L343.98,143.48 L344.46,143.40 L344.94,143.31 L345.42,143.23 L345.90,143.14 L346.37,143.05 L346.85,142.95 L347.33,142.86 L347.81,142.76 L348.29,142.66 L348.77,142.56 L349.24,142.46 L349.72,142.36 L350.20,142.25 L350.68,142.15 L351.16,142.04 L351.64,141.93 L352.11,141.82 L352.59,141.71 L353.07,141.60 L353.55,141.48 L354.03,141.37 L354.51,141.25 L354.98,141.13 L355.46,141.03 L355.94,140.92 L356.42,140.81 L356.90,140.70 L357.37,140.59 L357.85,140.48 L358.33,140.37 L358.81,140.26 L359.29,140.15 L359.77,140.03 L360.24,139.92 L360.72,139.80 L361.20,139.69 L361.68,139.57 L362.16,139.45 L362.64,139.33 L363.11,139.22 L363.59,139.10 L364.07,138.97 L364.55,138.85 L365.03,138.73 L365.51,138.61 L365.98,138.48 L366.46,138.36 L366.94,138.23 L367.42,138.11 L367.90,137.98 L368.38,137.85 L368.85,137.72 L369.33,137.59 L369.81,137.46 L370.29,137.33 L370.77,137.20 L371.25,137.07 L371.72,136.93 L372.20,136.80 L372.68,136.66 L373.16,136.53 L373.64,136.39 L374.12,136.25 L374.59,136.11 L375.07,135.97 L375.55,135.83 L376.03,135.69 L376.51,135.55 L376.99,135.40 L377.46,135.26 L377.94,135.11 L378.42,134.97 L378.90,134.82 L379.38,134.67 L379.86,134.53 L380.33,134.38 L380.81,134.23 L381.29,134.08 L381.77,133.93 L382.25,133.77 L382.73,133.62 L383.20,133.47 L383.68,133.31 L384.16,133.15 L384.64,133.00 L385.12,132.84 L385.60,132.68 L386.07,132.52 L386.55,132.36 L387.03,132.20 L387.51,132.04 L387.99,131.87 L388.46,131.71 L388.94,131.54 L389.42,131.38 L389.90,131.21 L390.38,131.04 L390.86,130.87 L391.33,130.70 L391.81,130.53 L392.29,130.36 L392.77,130.19 L393.25,130.01 L393.73,129.84 L394.20,129.66 L394.68,129.49 L395.16,129.31 L395.64,129.13 L396.12,128.95 L396.60,128.77 L397.07,128.59 L397.55,128.41 L398.03,128.23 L398.51,128.04 L398.99,127.86 L399.47,127.67 L399.94,127.48 L400.42,127.28 L400.90,127.08 L401.38,126.88 L401.86,126.68 L402.34,126.48 L402.81,126.27 L403.29,126.07 L403.77,125.86 L404.25,125.66 L404.73,125.45 L405.21,125.24 L405.68,125.03 L406.16,124.82 L406.64,124.60 L407.12,124.39 L407.60,124.18 L408.08,123.96 L408.55,123.75 L409.03,123.53 L409.51,123.31 L409.99,123.09 L410.47,122.87 L410.95,122.65 L411.42,122.42 L411.90,122.20 L412.38,121.98 L412.86,121.75 L413.34,121.52 L413.82,121.30 L414.29,121.07 L414.77,120.84 L415.25,120.61 L415.73,120.37 L416.21,120.14 L416.69,119.91 L417.16,119.67 L417.64,119.43 L418.12,119.20 L418.60,118.96 L419.08,118.72 L419.56,118.48 L420.03,118.23 L420.51,117.99 L420.99,117.75 L421.47,117.50 L421.95,117.25 L422.42,117.01 L422.90,116.76 L423.38,116.51 L423.86,116.26 L424.34,116.01 L424.82,115.75 L425.29,115.50 L425.77,115.24 L426.25,114.99 L426.73,114.73 L427.21,114.47 L427.69,114.21 L428.16,113.95 L428.64,113.68 L429.12,113.42 L429.60,113.16 L430.08,112.89 L430.56,112.62 L431.03,112.36 L431.51,112.09 L431.99,111.82 L432.47,111.54 L432.95,111.27 L433.43,111.00 L433.90,110.72 L434.38,110.45 L434.86,110.17 L435.34,109.89 L435.82,109.61 L436.30,109.33 L436.77,109.05 L437.25,108.76 L437.73,108.48 L438.21,108.19 L438.69,107.91 L439.17,107.62 L439.64,107.33 L440.12,107.04 L440.60,106.75 L441.08,106.45 L441.56,106.16 L442.04,105.86 L442.51,105.57 L442.99,105.27 L443.47,104.97 L443.95,104.67 L444.43,104.37 L444.91,104.07 L445.38,103.77 L445.86,103.46 L446.34,103.15 L446.82,102.85 L447.30,102.54 L447.78,102.23 L448.25,101.92 L448.73,101.61 L449.21,101.29 L449.69,100.98 L450.17,100.66 L450.65,100.34 L451.12,100.03 L451.60,99.71 L452.08,99.38 L452.56,99.06 L453.04,98.74 L453.52,98.41 L453.99,98.09 L454.47,97.76 L454.95,97.43 L455.43,97.10 L455.91,96.77 L456.38,96.44 L456.86,96.10 L457.34,95.77 L457.82,95.43 L458.30,95.09 L458.78,94.75 L459.25,94.41 L459.73,94.07 L460.21,93.73 L460.69,93.39 L461.17,93.04 L461.65,92.70 L462.12,92.35 L462.60,92.00 L463.08,91.65 L463.56,91.30 L464.04,90.95 L464.52,90.60 L464.99,90.24 L465.47,89.89 L465.95,89.53 L466.43,89.17 L466.91,88.81 L467.39,88.45 L467.86,88.09 L468.34,87.72 L468.82,87.36 L469.30,86.99 L469.78,86.63 L470.26,86.26 L470.73,85.89 L471.21,85.52 L471.69,85.15 L472.17,84.78 L472.65,84.41 L473.13,84.04 L473.60,83.67 L474.08,83.29 L474.56,82.91 L475.04,82.54 L475.52,82.16 L476.00,81.78 L476.47,81.40 L476.95,81.02 L477.43,80.64 L477.91,80.26 L478.39,79.88 L478.87,79.49 L479.34,79.11 L479.82,78.73 L480.30,78.34 L480.78,77.95 L481.26,77.57 L481.74,77.18 L482.21,76.79 L482.69,76.40 L483.17,76.01 L483.65,75.62 L484.13,75.22 L484.61,74.83 L485.08,74.44 L485.56,74.04 L486.04,73.65 L486.52,73.25 L487.00,72.86 L487.47,72.46 L487.95,72.06 L488.43,71.67 L488.91,71.27 L489.39,70.87 L489.87,70.47 L490.34,70.07 L490.82,69.66 L491.30,69.26 L491.78,68.86 L492.26,68.46 L492.74,68.05 L493.21,67.65 L493.69,67.24 L494.17,66.84 L494.65,66.43 L495.13,66.02 L495.61,65.61 L496.08,65.19 L496.56,64.77 L497.04,64.36 L497.52,63.94 L498.00,63.52 L498.48,63.10 L498.95,62.68 L499.43,62.26 L499.91,61.84 L500.39,61.42 L500.87,61.00 L501.35,60.58 L501.82,60.16 L502.30,59.73 L502.78,59.31 L503.26,58.89 L503.74,58.46 L504.22,58.04 L504.69,57.62 L505.17,57.19 L505.65,56.77 L506.13,56.34 L506.61,55.92 L507.09,55.49 L507.56,55.06 L508.04,54.64 L508.52,54.21 L509.00,53.78 L509.48,53.36 L509.96,52.93 L510.43,52.50 L510.91,52.07 L511.39,51.65 L511.87,51.22 L512.35,50.79 L512.83,50.36 L513.30,49.93 L513.78,49.50 L514.26,49.07 L514.74,48.64 L515.22,48.21 L515.70,47.78 L516.17,47.36 L516.65,46.94 L517.13,46.52 L517.61,46.09 L518.09,45.67 L518.57,45.25 L519.04,44.83 L519.52,44.41 L520.00,43.99" stroke="#ff00ff" stroke-width="2.6"/>
<path d="M90.00,267.13 L90.48,266.96 L90.96,266.79 L91.43,266.61 L91.91,266.43 L92.39,266.25 L92.87,266.07 L93.35,265.88 L93.83,265.69 L94.30,265.50 L94.78,265.30 L95.26,265.11 L95.74,264.91 L96.22,264.71 L96.70,264.51 L97.17,264.32 L97.65,264.13 L98.13,263.94 L98.61,263.75 L99.09,263.55 L99.57,263.35 L100.04,263.15 L100.52,262.94 L101.00,262.73 L101.48,262.50 L101.96,262.27 L102.44,262.03 L102.91,261.79 L103.39,261.55 L103.87,261.31 L104.35,261.06 L104.83,260.81 L105.31,260.55 L105.78,260.28 L106.26,260.01 L106.74,259.73 L107.22,259.45 L107.70,259.18 L108.18,258.89 L108.65,258.61 L109.13,258.32 L109.61,258.03 L110.09,257.74 L110.57,257.44 L111.05,257.15 L111.52,256.85 L112.00,256.54 L112.48,256.23 L112.96,255.91 L113.44,255.59 L113.92,255.27 L114.39,254.94 L114.87,254.61 L115.35,254.28 L115.83,253.95 L116.31,253.61 L116.79,253.27 L117.26,252.93 L117.74,252.59 L118.22,252.25 L118.70,251.91 L119.18,251.56 L119.66,251.22 L120.13,250.87 L120.61,250.52 L121.09,250.16 L121.57,249.81 L122.05,249.45 L122.53,249.09 L123.00,248.73 L123.48,248.36 L123.96,247.99 L124.44,247.65 L124.92,247.30 L125.39,246.95 L125.87,246.60 L126.35,246.25 L126.83,245.89 L127.31,245.53 L127.79,245.17 L128.26,244.81 L128.74,244.44 L129.22,244.08 L129.70,243.71 L130.18,243.33 L130.66,242.96 L131.13,242.58 L131.61,242.20 L132.09,241.81 L132.57,241.39 L133.05,240.96 L133.53,240.54 L134.00,240.11 L134.48,239.68 L134.96,239.25 L135.44,238.81 L135.92,238.37 L136.40,237.92 L136.87,237.46 L137.35,237.00 L137.83,236.53 L138.31,236.07 L138.79,235.60 L139.27,235.13 L139.74,234.65 L140.22,234.18 L140.70,233.70 L141.18,233.22 L141.66,232.73 L142.14,232.27 L142.61,231.84 L143.09,231.41 L143.57,230.99 L144.05,230.55 L144.53,230.12 L145.01,229.68 L145.48,229.24 L145.96,228.80 L146.44,228.36 L146.92,227.91 L147.40,227.47 L147.88,227.02 L148.35,226.57 L148.83,226.11 L149.31,225.65 L149.79,225.20 L150.27,224.74 L150.75,224.28 L151.22,223.82 L151.70,223.36 L152.18,222.90 L152.66,222.44 L153.14,221.99 L153.62,221.53 L154.09,221.08 L154.57,220.66 L155.05,220.25 L155.53,219.84 L156.01,219.43 L156.48,219.02 L156.96,218.61 L157.44,218.21 L157.92,217.80 L158.40,217.40 L158.88,217.01 L159.35,216.61 L159.83,216.22 L160.31,215.80 L160.79,215.37 L161.27,214.94 L161.75,214.51 L162.22,214.09 L162.70,213.67 L163.18,213.25 L163.66,212.84 L164.14,212.43 L164.62,212.03 L165.09,211.63 L165.57,211.23 L166.05,210.85 L166.53,210.54 L167.01,210.25 L167.49,209.95 L167.96,209.66 L168.44,209.37 L168.92,209.09 L169.40,208.80 L169.88,208.53 L170.36,208.22 L170.83,207.90 L171.31,207.58 L171.79,207.27 L172.27,206.96 L172.75,206.65 L173.23,206.34 L173.70,206.04 L174.18,205.74 L174.66,205.45 L175.14,205.15 L175.62,204.86 L176.10,204.57 L176.57,204.25 L177.05,203.94 L177.53,203.62 L178.01,203.31 L178.49,203.00 L178.97,202.70 L179.44,202.40 L179.92,202.09 L180.40,201.80 L180.88,201.50 L181.36,201.21 L181.84,200.92 L182.31,200.63 L182.79,200.33 L183.27,200.01 L183.75,199.70 L184.23,199.38 L184.71,199.07 L185.18,198.76 L185.66,198.45 L186.14,198.15 L186.62,197.84 L187.10,197.54 L187.58,197.24 L188.05,196.94 L188.53,196.64 L189.01,196.35 L189.49,196.05 L189.97,195.76 L190.44,195.47 L190.92,195.18 L191.40,194.89 L191.88,194.60 L192.36,194.32 L192.84,194.03 L193.31,193.75 L193.79,193.47 L194.27,193.19 L194.75,192.91 L195.23,192.63 L195.71,192.35 L196.18,192.06 L196.66,191.78 L197.14,191.50 L197.62,191.22 L198.10,190.94 L198.58,190.66 L199.05,190.38 L199.53,190.11 L200.01,189.83 L200.49,189.55 L200.97,189.28 L201.45,189.01 L201.92,188.73 L202.40,188.46 L202.88,188.19 L203.36,187.91 L203.84,187.64 L204.32,187.37 L204.79,187.10 L205.27,186.83 L205.75,186.56 L206.23,186.29 L206.71,186.02 L207.19,185.75 L207.66,185.48 L208.14,185.21 L208.62,184.96 L209.10,184.71 L209.58,184.46 L210.06,184.21 L210.53,183.96 L211.01,183.71 L211.49,183.46 L211.97,183.21 L212.45,182.96 L212.93,182.71 L213.40,182.46 L213.88,182.20 L214.36,181.95 L214.84,181.70 L215.32,181.45 L215.80,181.19 L216.27,180.94 L216.75,180.68 L217.23,180.43 L217.71,180.17 L218.19,179.91 L218.67,179.66 L219.14,179.40 L219.62,179.14 L220.10,178.88 L220.58,178.62 L221.06,178.35 L221.54,178.09 L222.01,177.82 L222.49,177.55 L222.97,177.28 L223.45,177.01 L223.93,176.74 L224.40,176.47 L224.88,176.20 L225.36,175.92 L225.84,175.65 L226.32,175.37 L226.80,175.09 L227.27,174.81 L227.75,174.53 L228.23,174.25 L228.71,173.96 L229.19,173.67 L229.67,173.39 L230.14,173.12 L230.62,172.89 L231.10,172.65 L231.58,172.42 L232.06,172.18 L232.54,171.95 L233.01,171.71 L233.49,171.47 L233.97,171.22 L234.45,170.98 L234.93,170.73 L235.41,170.49 L235.88,170.26 L236.36,170.02 L236.84,169.78 L237.32,169.54 L237.80,169.29 L238.28,169.05 L238.75,168.80 L239.23,168.54 L239.71,168.29 L240.19,168.02 L240.67,167.76 L241.15,167.49 L241.62,167.19 L242.10,166.86 L242.58,166.53 L243.06,166.19 L243.54,165.85 L244.02,165.49 L244.49,165.14 L244.97,164.77 L245.45,164.39 L245.93,164.01 L246.41,163.62 L246.89,163.22 L247.36,162.82 L247.84,162.40 L248.32,161.97 L248.80,161.53 L249.28,161.08 L249.76,160.62 L250.23,160.14 L250.71,159.63 L251.19,159.12 L251.67,158.59 L252.15,158.06 L252.63,157.50 L253.10,156.94 L253.58,156.36 L254.06,155.78 L254.54,155.18 L255.02,154.57 L255.49,153.95 L255.97,153.33 L256.45,152.70 L256.93,152.02 L257.41,151.34 L257.89,150.65 L258.36,149.95 L258.84,149.26 L259.32,148.56 L259.80,147.86 L260.28,147.16 L260.76,146.46 L261.23,145.76 L261.71,145.06 L262.19,144.37 L262.67,143.68 L263.15,143.01 L263.63,142.35 L264.10,141.71 L264.58,141.07 L265.06,140.44 L265.54,139.82 L266.02,139.21 L266.50,138.62 L266.97,138.04 L267.45,137.47 L267.93,136.92 L268.41,136.38 L268.89,135.86 L269.37,135.36 L269.84,134.88 L270.32,134.42 L270.80,133.98 L271.28,133.55 L271.76,133.15 L272.24,132.77 L272.71,132.41 L273.19,132.07 L273.67,131.75 L274.15,131.46 L274.63,131.18 L275.11,130.93 L275.58,130.59 L276.06,130.21 L276.54,129.86 L277.02,129.52 L277.50,129.20 L277.98,128.91 L278.45,128.63 L278.93,128.38 L279.41,128.15 L279.89,127.94 L280.37,127.80 L280.85,127.97 L281.32,128.16 L281.80,128.37 L282.28,128.60 L282.76,128.85 L283.24,129.11 L283.72,129.39 L284.19,129.68 L284.67,129.99 L285.15,130.32 L285.63,130.57 L286.11,130.77 L286.59,130.99 L287.06,131.22 L287.54,131.45 L288.02,131.70 L288.50,131.95 L288.98,132.21 L289.45,132.47 L289.93,132.74 L290.41,133.03 L290.89,133.31 L291.37,133.60 L291.85,133.89 L292.32,134.18 L292.80,134.48 L293.28,134.77 L293.76,135.07 L294.24,135.36 L294.72,135.65 L295.19,135.95 L295.67,136.24 L296.15,136.54 L296.63,136.83 L297.11,137.12 L297.59,137.41 L298.06,137.70 L298.54,137.98 L299.02,138.26 L299.50,138.54 L299.98,138.82 L300.46,139.08 L300.93,139.34 L301.41,139.59 L301.89,139.84 L302.37,140.09 L302.85,140.33 L303.33,140.57 L303.80,140.80 L304.28,141.03 L304.76,141.26 L305.24,141.48 L305.72,141.69 L306.20,141.90 L306.67,142.11 L307.15,142.31 L307.63,142.51 L308.11,142.70 L308.59,142.89 L309.07,143.07 L309.54,143.25 L310.02,143.42 L310.50,143.56 L310.98,143.70 L311.46,143.84 L311.94,143.97 L312.41,144.09 L312.89,144.21 L313.37,144.33 L313.85,144.44 L314.33,144.55 L314.81,144.65 L315.28,144.75 L315.76,144.84 L316.24,144.93 L316.72,145.02 L317.20,145.10 L317.68,145.17 L318.15,145.25 L318.63,145.32 L319.11,145.38 L319.59,145.44 L320.07,145.50 L320.55,145.55 L321.02,145.60 L321.50,145.64 L321.98,145.68 L322.46,145.73 L322.94,145.78 L323.41,145.82 L323.89,145.86 L324.37,145.90 L324.85,145.93 L325.33,145.96 L325.81,145.99 L326.28,146.01 L326.76,146.03 L327.24,146.04 L327.72,146.05 L328.20,146.06 L328.68,146.07 L329.15,146.07 L329.63,146.07 L330.11,146.06 L330.59,146.05 L331.07,146.04 L331.55,146.03 L332.02,146.01 L332.50,145.99 L332.98,145.97 L333.46,145.94 L333.94,145.91 L334.42,145.88 L334.89,145.85 L335.37,145.81 L335.85,145.77 L336.33,145.73 L336.81,145.68 L337.29,145.64 L337.76,145.59 L338.24,145.53 L338.72,145.48 L339.20,145.42 L339.68,145.36 L340.16,145.30 L340.63,145.23 L341.11,145.17 L341.59,145.10 L342.07,145.03 L342.55,144.95 L343.03,144.88 L343.50,144.80 L343.98,144.72 L344.46,144.64 L344.94,144.55 L345.42,144.47 L345.90,144.38 L346.37,144.29 L346.85,144.20 L347.33,144.11 L347.81,144.01 L348.29,143.92 L348.77,143.82 L349.24,143.72 L349.72,143.62 L350.20,143.51 L350.68,143.41 L351.16,143.30 L351.64,143.20 L352.11,143.09 L352.59,142.98 L353.07,142.87 L353.55,142.76 L354.03,142.64 L354.51,142.53 L354.98,142.41 L355.46,142.31 L355.94,142.20 L356.42,142.10 L356.90,141.99 L357.37,141.88 L357.85,141.77 L358.33,141.67 L358.81,141.56 L359.29,141.44 L359.77,141.33 L360.24,141.22 L360.72,141.10 L361.20,140.98 L361.68,140.87 L362.16,140.75 L362.64,140.63 L363.11,140.51 L363.59,140.39 L364.07,140.26 L364.55,140.14 L365.03,140.02 L365.51,139.89 L365.98,139.77 L366.46,139.64 L366.94,139.52 L367.42,139.39 L367.90,139.26 L368.38,139.13 L368.85,139.00 L369.33,138.87 L369.81,138.74 L370.29,138.61 L370.77,138.47 L371.25,138.34 L371.72,138.20 L372.20,138.07 L372.68,137.93 L373.16,137.79 L373.64,137.65 L374.12,137.51 L374.59,137.37 L375.07,137.23 L375.55,137.09 L376.03,136.95 L376.51,136.81 L376.99,136.66 L377.46,136.52 L377.94,136.37 L378.42,136.22 L378.90,136.08 L379.38,135.93 L379.86,135.78 L380.33,135.63 L380.81,135.48 L381.29,135.32 L381.77,135.17 L382.25,135.02 L382.73,134.86 L383.20,134.71 L383.68,134.55 L384.16,134.39 L384.64,134.24 L385.12,134.08 L385.60,133.92 L386.07,133.76 L386.55,133.59 L387.03,133.43 L387.51,133.27 L387.99,133.10 L388.46,132.94 L388.94,132.77 L389.42,132.60 L389.90,132.44 L390.38,132.27 L390.86,132.10 L391.33,131.93 L391.81,131.75 L392.29,131.58 L392.77,131.41 L393.25,131.23 L393.73,131.06 L394.20,130.88 L394.68,130.70 L395.16,130.52 L395.64,130.34 L396.12,130.16 L396.60,129.98 L397.07,129.80 L397.55,129.61 L398.03,129.43 L398.51,129.24 L398.99,129.06 L399.47,128.87 L399.94,128.68 L400.42,128.49 L400.90,128.29 L401.38,128.09 L401.86,127.89 L402.34,127.68 L402.81,127.48 L403.29,127.28 L403.77,127.07 L404.25,126.87 L404.73,126.66 L405.21,126.45 L405.68,126.24 L406.16,126.03 L406.64,125.82 L407.12,125.61 L407.60,125.40 L408.08,125.18 L408.55,124.97 L409.03,124.75 L409.51,124.53 L409.99,124.31 L410.47,124.10 L410.95,123.87 L411.42,123.65 L411.90,123.43 L412.38,123.21 L412.86,122.98 L413.34,122.76 L413.82,122.53 L414.29,122.30 L414.77,122.07 L415.25,121.84 L415.73,121.61 L416.21,121.38 L416.69,121.15 L417.16,120.91 L417.64,120.68 L418.12,120.44 L418.60,120.20 L419.08,119.96 L419.56,119.72 L420.03,119.48 L420.51,119.24 L420.99,119.00 L421.47,118.75 L421.95,118.51 L422.42,118.26 L422.90,118.02 L423.38,117.77 L423.86,117.52 L424.34,117.27 L424.82,117.01 L425.29,116.76 L425.77,116.51 L426.25,116.25 L426.73,115.99 L427.21,115.74 L427.69,115.48 L428.16,115.22 L428.64,114.96 L429.12,114.69 L429.60,114.43 L430.08,114.17 L430.56,113.90 L431.03,113.63 L431.51,113.37 L431.99,113.10 L432.47,112.83 L432.95,112.55 L433.43,112.28 L433.90,112.01 L434.38,111.73 L434.86,111.46 L435.34,111.18 L435.82,110.90 L436.30,110.62 L436.77,110.34 L437.25,110.06 L437.73,109.77 L438.21,109.49 L438.69,109.20 L439.17,108.91 L439.64,108.63 L440.12,108.34 L440.60,108.05 L441.08,107.77 L441.56,107.48 L442.04,107.19 L442.51,106.91 L442.99,106.62 L443.47,106.32 L443.95,106.03 L444.43,105.74 L444.91,105.44 L445.38,105.15 L445.86,104.85 L446.34,104.55 L446.82,104.25 L447.30,103.95 L447.78,103.65 L448.25,103.34 L448.73,103.04 L449.21,102.73 L449.69,102.42 L450.17,102.11 L450.65,101.80 L451.12,101.49 L451.60,101.18 L452.08,100.87 L452.56,100.55 L453.04,100.23 L453.52,99.92 L453.99,99.60 L454.47,99.28 L454.95,98.95 L455.43,98.63 L455.91,98.31 L456.38,97.98 L456.86,97.65 L457.34,97.33 L457.82,97.00 L458.30,96.67 L458.78,96.34 L459.25,96.00 L459.73,95.67 L460.21,95.33 L460.69,95.00 L461.17,94.66 L461.65,94.32 L462.12,93.98 L462.60,93.64 L463.08,93.30 L463.56,92.95 L464.04,92.61 L464.52,92.26 L464.99,91.92 L465.47,91.57 L465.95,91.22 L466.43,90.87 L466.91,90.51 L467.39,90.16 L467.86,89.80 L468.34,89.45 L468.82,89.09 L469.30,88.73 L469.78,88.38 L470.26,88.02 L470.73,87.65 L471.21,87.29 L471.69,86.93 L472.17,86.57 L472.65,86.20 L473.13,85.84 L473.60,85.47 L474.08,85.10 L474.56,84.73 L475.04,84.36 L475.52,83.99 L476.00,83.62 L476.47,83.25 L476.95,82.88 L477.43,82.50 L477.91,82.13 L478.39,81.75 L478.87,81.38 L479.34,81.00 L479.82,80.62 L480.30,80.24 L480.78,79.86 L481.26,79.48 L481.74,79.09 L482.21,78.71 L482.69,78.32 L483.17,77.93 L483.65,77.55 L484.13,77.16 L484.61,76.77 L485.08,76.38 L485.56,75.99 L486.04,75.60 L486.52,75.21 L487.00,74.82 L487.47,74.42 L487.95,74.03 L488.43,73.64 L488.91,73.24 L489.39,72.85 L489.87,72.45 L490.34,72.05 L490.82,71.65 L491.30,71.26 L491.78,70.86 L492.26,70.46 L492.74,70.06 L493.21,69.66 L493.69,69.26 L494.17,68.86 L494.65,68.46 L495.13,68.05 L495.61,67.64 L496.08,67.23 L496.56,66.81 L497.04,66.40 L497.52,65.99 L498.00,65.57 L498.48,65.16 L498.95,64.74 L499.43,64.32 L499.91,63.91 L500.39,63.49 L500.87,63.07 L501.35,62.66 L501.82,62.24 L502.30,61.82 L502.78,61.40 L503.26,60.98 L503.74,60.56 L504.22,60.14 L504.69,59.72 L505.17,59.30 L505.65,58.88 L506.13,58.46 L506.61,58.04 L507.09,57.62 L507.56,57.19 L508.04,56.77 L508.52,56.35 L509.00,55.93 L509.48,55.50 L509.96,55.08 L510.43,54.66 L510.91,54.23 L511.39,53.81 L511.87,53.38 L512.35,52.96 L512.83,52.53 L513.30,52.11 L513.78,51.68 L514.26,51.26 L514.74,50.83 L515.22,50.41 L515.70,49.98 L516.17,49.56 L516.65,49.14 L517.13,48.72 L517.61,48.29 L518.09,47.87 L518.57,47.45 L519.04,47.03 L519.52,46.61 L520.00,46.19" stroke="#000" stroke-width="2.6" stroke-dasharray="8.2 6.25" stroke-dashoffset="5.85"/>
</g>
<g stroke="#000" stroke-width="1"><line x1="96.5" y1="269.60" x2="104.8" y2="269.60"/><line x1="516.5" y1="269.60" x2="512.3" y2="269.60"/><line x1="96.5" y1="264.28" x2="100.5" y2="264.28"/><line x1="516.5" y1="264.28" x2="512.3" y2="264.28"/><line x1="96.5" y1="258.95" x2="100.5" y2="258.95"/><line x1="516.5" y1="258.95" x2="512.3" y2="258.95"/><line x1="96.5" y1="253.63" x2="100.5" y2="253.63"/><line x1="516.5" y1="253.63" x2="512.3" y2="253.63"/><line x1="96.5" y1="248.30" x2="100.5" y2="248.30"/><line x1="516.5" y1="248.30" x2="512.3" y2="248.30"/><line x1="96.5" y1="242.98" x2="100.5" y2="242.98"/><line x1="516.5" y1="242.98" x2="512.3" y2="242.98"/><line x1="96.5" y1="237.65" x2="100.5" y2="237.65"/><line x1="516.5" y1="237.65" x2="512.3" y2="237.65"/><line x1="96.5" y1="232.33" x2="100.5" y2="232.33"/><line x1="516.5" y1="232.33" x2="512.3" y2="232.33"/><line x1="96.5" y1="227.00" x2="100.5" y2="227.00"/><line x1="516.5" y1="227.00" x2="512.3" y2="227.00"/><line x1="96.5" y1="221.68" x2="100.5" y2="221.68"/><line x1="516.5" y1="221.68" x2="512.3" y2="221.68"/><line x1="96.5" y1="216.36" x2="104.8" y2="216.36"/><line x1="516.5" y1="216.36" x2="512.3" y2="216.36"/><line x1="96.5" y1="211.03" x2="100.5" y2="211.03"/><line x1="516.5" y1="211.03" x2="512.3" y2="211.03"/><line x1="96.5" y1="205.71" x2="100.5" y2="205.71"/><line x1="516.5" y1="205.71" x2="512.3" y2="205.71"/><line x1="96.5" y1="200.38" x2="100.5" y2="200.38"/><line x1="516.5" y1="200.38" x2="512.3" y2="200.38"/><line x1="96.5" y1="195.06" x2="100.5" y2="195.06"/><line x1="516.5" y1="195.06" x2="512.3" y2="195.06"/><line x1="96.5" y1="189.73" x2="100.5" y2="189.73"/><line x1="516.5" y1="189.73" x2="512.3" y2="189.73"/><line x1="96.5" y1="184.41" x2="100.5" y2="184.41"/><line x1="516.5" y1="184.41" x2="512.3" y2="184.41"/><line x1="96.5" y1="179.08" x2="100.5" y2="179.08"/><line x1="516.5" y1="179.08" x2="512.3" y2="179.08"/><line x1="96.5" y1="173.76" x2="100.5" y2="173.76"/><line x1="516.5" y1="173.76" x2="512.3" y2="173.76"/><line x1="96.5" y1="168.44" x2="100.5" y2="168.44"/><line x1="516.5" y1="168.44" x2="512.3" y2="168.44"/><line x1="96.5" y1="163.11" x2="104.8" y2="163.11"/><line x1="516.5" y1="163.11" x2="512.3" y2="163.11"/><line x1="96.5" y1="157.79" x2="100.5" y2="157.79"/><line x1="516.5" y1="157.79" x2="512.3" y2="157.79"/><line x1="96.5" y1="152.46" x2="100.5" y2="152.46"/><line x1="516.5" y1="152.46" x2="512.3" y2="152.46"/><line x1="96.5" y1="147.14" x2="100.5" y2="147.14"/><line x1="516.5" y1="147.14" x2="512.3" y2="147.14"/><line x1="96.5" y1="141.81" x2="100.5" y2="141.81"/><line x1="516.5" y1="141.81" x2="512.3" y2="141.81"/><line x1="96.5" y1="136.49" x2="100.5" y2="136.49"/><line x1="516.5" y1="136.49" x2="512.3" y2="136.49"/><line x1="96.5" y1="131.16" x2="100.5" y2="131.16"/><line x1="516.5" y1="131.16" x2="512.3" y2="131.16"/><line x1="96.5" y1="125.84" x2="100.5" y2="125.84"/><line x1="516.5" y1="125.84" x2="512.3" y2="125.84"/><line x1="96.5" y1="120.52" x2="100.5" y2="120.52"/><line x1="516.5" y1="120.52" x2="512.3" y2="120.52"/><line x1="96.5" y1="115.19" x2="100.5" y2="115.19"/><line x1="516.5" y1="115.19" x2="512.3" y2="115.19"/><line x1="96.5" y1="109.87" x2="104.8" y2="109.87"/><line x1="516.5" y1="109.87" x2="512.3" y2="109.87"/><line x1="96.5" y1="104.54" x2="100.5" y2="104.54"/><line x1="516.5" y1="104.54" x2="512.3" y2="104.54"/><line x1="96.5" y1="99.22" x2="100.5" y2="99.22"/><line x1="516.5" y1="99.22" x2="512.3" y2="99.22"/><line x1="96.5" y1="93.89" x2="100.5" y2="93.89"/><line x1="516.5" y1="93.89" x2="512.3" y2="93.89"/><line x1="96.5" y1="88.57" x2="100.5" y2="88.57"/><line x1="516.5" y1="88.57" x2="512.3" y2="88.57"/><line x1="96.5" y1="83.24" x2="100.5" y2="83.24"/><line x1="516.5" y1="83.24" x2="512.3" y2="83.24"/><line x1="96.5" y1="77.92" x2="100.5" y2="77.92"/><line x1="516.5" y1="77.92" x2="512.3" y2="77.92"/><line x1="96.5" y1="72.60" x2="100.5" y2="72.60"/><line x1="516.5" y1="72.60" x2="512.3" y2="72.60"/><line x1="96.5" y1="67.27" x2="100.5" y2="67.27"/><line x1="516.5" y1="67.27" x2="512.3" y2="67.27"/><line x1="96.5" y1="61.95" x2="100.5" y2="61.95"/><line x1="516.5" y1="61.95" x2="512.3" y2="61.95"/><line x1="96.5" y1="56.62" x2="104.8" y2="56.62"/><line x1="516.5" y1="56.62" x2="512.3" y2="56.62"/><line x1="96.5" y1="51.30" x2="100.5" y2="51.30"/><line x1="516.5" y1="51.30" x2="512.3" y2="51.30"/><line x1="96.5" y1="45.97" x2="100.5" y2="45.97"/><line x1="516.5" y1="45.97" x2="512.3" y2="45.97"/><line x1="96.5" y1="40.65" x2="100.5" y2="40.65"/><line x1="516.5" y1="40.65" x2="512.3" y2="40.65"/><line x1="96.5" y1="35.32" x2="100.5" y2="35.32"/><line x1="516.5" y1="35.32" x2="512.3" y2="35.32"/><line x1="96.5" y1="30.00" x2="100.5" y2="30.00"/><line x1="516.5" y1="30.00" x2="512.3" y2="30.00"/><line x1="100.88" y1="269.6" x2="100.88" y2="267.1"/><line x1="100.88" y1="30.0" x2="100.88" y2="32.5"/><line x1="122.75" y1="269.6" x2="122.75" y2="267.1"/><line x1="122.75" y1="30.0" x2="122.75" y2="32.5"/><line x1="144.62" y1="269.6" x2="144.62" y2="267.1"/><line x1="144.62" y1="30.0" x2="144.62" y2="32.5"/><line x1="166.50" y1="269.6" x2="166.50" y2="264.6"/><line x1="166.50" y1="30.0" x2="166.50" y2="35.0"/><line x1="188.38" y1="269.6" x2="188.38" y2="267.1"/><line x1="188.38" y1="30.0" x2="188.38" y2="32.5"/><line x1="210.25" y1="269.6" x2="210.25" y2="267.1"/><line x1="210.25" y1="30.0" x2="210.25" y2="32.5"/><line x1="232.12" y1="269.6" x2="232.12" y2="267.1"/><line x1="232.12" y1="30.0" x2="232.12" y2="32.5"/><line x1="254.00" y1="269.6" x2="254.00" y2="264.6"/><line x1="254.00" y1="30.0" x2="254.00" y2="35.0"/><line x1="275.88" y1="269.6" x2="275.88" y2="267.1"/><line x1="275.88" y1="30.0" x2="275.88" y2="32.5"/><line x1="297.75" y1="269.6" x2="297.75" y2="267.1"/><line x1="297.75" y1="30.0" x2="297.75" y2="32.5"/><line x1="319.62" y1="269.6" x2="319.62" y2="267.1"/><line x1="319.62" y1="30.0" x2="319.62" y2="32.5"/><line x1="341.50" y1="269.6" x2="341.50" y2="264.6"/><line x1="341.50" y1="30.0" x2="341.50" y2="35.0"/><line x1="363.38" y1="269.6" x2="363.38" y2="267.1"/><line x1="363.38" y1="30.0" x2="363.38" y2="32.5"/><line x1="385.25" y1="269.6" x2="385.25" y2="267.1"/><line x1="385.25" y1="30.0" x2="385.25" y2="32.5"/><line x1="407.12" y1="269.6" x2="407.12" y2="267.1"/><line x1="407.12" y1="30.0" x2="407.12" y2="32.5"/><line x1="429.00" y1="269.6" x2="429.00" y2="264.6"/><line x1="429.00" y1="30.0" x2="429.00" y2="35.0"/><line x1="450.88" y1="269.6" x2="450.88" y2="267.1"/><line x1="450.88" y1="30.0" x2="450.88" y2="32.5"/><line x1="472.75" y1="269.6" x2="472.75" y2="267.1"/><line x1="472.75" y1="30.0" x2="472.75" y2="32.5"/><line x1="494.62" y1="269.6" x2="494.62" y2="267.1"/><line x1="494.62" y1="30.0" x2="494.62" y2="32.5"/><line x1="516.50" y1="269.6" x2="516.50" y2="264.6"/><line x1="516.50" y1="30.0" x2="516.50" y2="35.0"/></g>
<line x1="96.35" y1="29.0" x2="96.35" y2="270.6" stroke="#111" stroke-width="1.25"/>
<line x1="516.5" y1="29.0" x2="516.5" y2="270.6" stroke="#000" stroke-width="1.5"/>
<line x1="95.9" y1="30.0" x2="517.2" y2="30.0" stroke="#000" stroke-width="1.9"/>
<line x1="95.9" y1="269.6" x2="517.2" y2="269.6" stroke="#000" stroke-width="2"/>
<rect x="105.9" y="45.1" width="144.7" height="38.2" fill="#fff" stroke="#000" stroke-width="1.3"/>
<line x1="120" y1="56.7" x2="171" y2="56.7" stroke="#000" stroke-width="1.6" stroke-dasharray="8 6.4"/>
<line x1="120" y1="71.9" x2="177.8" y2="71.9" stroke="#ff00ff" stroke-width="1.6"/>
<g font-size="13.7px" fill="#000"><text x="188.1" y="60.6">HD93250</text><text x="188.1" y="75.5">model</text></g>
<g font-size="18.4px" fill="#000" stroke="#000" stroke-width="0.18"><text x="90.9" y="269.9" text-anchor="end">0</text><path d="M763 0H583V1147Q518 1085 412.5 1023T223 930V1104Q374 1175 487 1276T647 1472H763Z" transform="translate(80.67,223.01) scale(0.00898,-0.00898)" fill="#000" stroke="#000" stroke-width="20.0"/><text x="90.9" y="169.8" text-anchor="end">2</text><text x="90.9" y="116.5" text-anchor="end">3</text><text x="90.9" y="63.3" text-anchor="end">4</text><text x="166.5" y="293.2" text-anchor="middle">2</text><text x="254.0" y="293.2" text-anchor="middle">4</text><text x="341.5" y="293.2" text-anchor="middle">6</text><text x="429.0" y="293.2" text-anchor="middle">8</text><path d="M763 0H583V1147Q518 1085 412.5 1023T223 930V1104Q374 1175 487 1276T647 1472H763Z" transform="translate(506.27,293.20) scale(0.00898,-0.00898)" fill="#000" stroke="#000" stroke-width="20.0"/><text x="516.5" y="293.2">0</text>
<path d="M763 0H583V1147Q518 1085 412.5 1023T223 930V1104Q374 1175 487 1276T647 1472H763Z" transform="translate(266.90,312.60) scale(0.00898,-0.00898)" fill="#000" stroke="#000" stroke-width="20.0"/><text x="276.9" y="312.6">/λ</text><text x="297.0" y="312.6">(μm</text><text x="329.7" y="304.7" font-size="10.5px">-</text><path d="M763 0H583V1147Q518 1085 412.5 1023T223 930V1104Q374 1175 487 1276T647 1472H763Z" transform="translate(332.60,304.70) scale(0.00513,-0.00513)" fill="#000" stroke="#000" stroke-width="35.1"/><text x="339.0" y="312.6">)</text>
<g transform="translate(66.3,0) rotate(-90)" stroke="none"><text transform="translate(-164.65,0) scale(1.18,1.04)" text-anchor="middle">τ</text><text x="-154.45" y="0" text-anchor="middle">/</text><text transform="translate(-142.35,0) scale(1.18,1.04)" text-anchor="middle">τ</text><text x="-134.4" y="4.1" text-anchor="middle" font-size="10.5px">V</text></g>
</g>
<g font-size="13.7px">
<text x="391" y="184.5" fill="#00ff00" text-anchor="middle">Si</text>
<text x="393.1" y="221.9" fill="#a52a2a" text-anchor="middle">aC</text>
<text x="481.6" y="246" fill="#228b22" text-anchor="middle">sSi</text>
<text x="319.8" y="245.8" fill="#ff0000" text-anchor="middle">PAH</text>
<text x="270.2" y="259.3" fill="#0000ff" text-anchor="middle">gr</text>
</g>
</svg></body></html>
